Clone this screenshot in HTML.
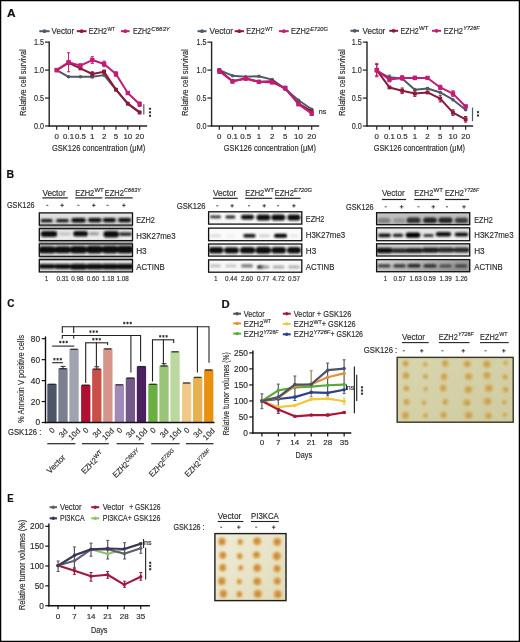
<!DOCTYPE html>
<html><head><meta charset="utf-8"><style>
html,body{margin:0;padding:0;background:#fff;}
svg{display:block;will-change:transform;}
text{font-family:"Liberation Sans", sans-serif;}
</style></head><body>
<svg width="520" height="642" viewBox="0 0 520 642">
<defs>
<filter id="bl" x="-50%" y="-100%" width="200%" height="300%"><feGaussianBlur stdDeviation="0.9"/></filter>
<filter id="tb" x="-50%" y="-50%" width="200%" height="200%"><feGaussianBlur stdDeviation="0.9"/></filter>
</defs>
<rect x="0" y="0" width="520" height="642" fill="#fff"/>
<text x="7.00" y="16.80" font-size="11.2" text-anchor="start" fill="#111" stroke="#111" stroke-width="0.2" font-weight="bold" textLength="8.60" lengthAdjust="spacingAndGlyphs">A</text>
<line x1="39.30" y1="31.20" x2="49.60" y2="31.20" stroke="#4f5a68" stroke-width="2.0"/>
<circle cx="44.45" cy="31.20" r="1.90" fill="#4f5a68"/>
<text x="51.60" y="34.30" font-size="8.6" text-anchor="start" fill="#2a2a2a" stroke="#2a2a2a" stroke-width="0.15" textLength="22.60" lengthAdjust="spacingAndGlyphs">Vector</text>
<line x1="76.80" y1="31.20" x2="86.50" y2="31.20" stroke="#8e1838" stroke-width="2.0"/>
<circle cx="81.65" cy="31.20" r="1.90" fill="#8e1838"/>
<text x="88.80" y="34.30" font-size="8.6" text-anchor="start" fill="#2a2a2a" stroke="#2a2a2a" stroke-width="0.15" textLength="18.30" lengthAdjust="spacingAndGlyphs">EZH2</text>
<text x="107.40" y="30.60" font-size="5.8" text-anchor="start" fill="#2a2a2a" stroke="#2a2a2a" stroke-width="0.15" textLength="7.50" lengthAdjust="spacingAndGlyphs">WT</text>
<line x1="120.90" y1="31.20" x2="129.60" y2="31.20" stroke="#c01c78" stroke-width="2.0"/>
<circle cx="125.25" cy="31.20" r="1.90" fill="#c01c78"/>
<text x="133.00" y="34.30" font-size="8.6" text-anchor="start" fill="#2a2a2a" stroke="#2a2a2a" stroke-width="0.15" textLength="18.00" lengthAdjust="spacingAndGlyphs">EZH2</text>
<text x="151.30" y="30.60" font-size="5.8" text-anchor="start" fill="#2a2a2a" stroke="#2a2a2a" stroke-width="0.15" textLength="18.50" lengthAdjust="spacingAndGlyphs" style="font-style:italic">C663Y</text>
<line x1="49.20" y1="41.60" x2="49.20" y2="126.60" stroke="#222" stroke-width="1.4"/>
<line x1="48.50" y1="126.00" x2="147.15" y2="126.00" stroke="#222" stroke-width="1.4"/>
<line x1="45.00" y1="42.15" x2="49.20" y2="42.15" stroke="#222" stroke-width="1.2"/>
<text x="44.00" y="45.10" font-size="8.3" text-anchor="end" fill="#2a2a2a" stroke="#2a2a2a" stroke-width="0.15" textLength="10.00" lengthAdjust="spacingAndGlyphs">1.5</text>
<line x1="45.00" y1="70.10" x2="49.20" y2="70.10" stroke="#222" stroke-width="1.2"/>
<text x="44.00" y="73.05" font-size="8.3" text-anchor="end" fill="#2a2a2a" stroke="#2a2a2a" stroke-width="0.15" textLength="10.00" lengthAdjust="spacingAndGlyphs">1.0</text>
<line x1="45.00" y1="98.05" x2="49.20" y2="98.05" stroke="#222" stroke-width="1.2"/>
<text x="44.00" y="101.00" font-size="8.3" text-anchor="end" fill="#2a2a2a" stroke="#2a2a2a" stroke-width="0.15" textLength="10.00" lengthAdjust="spacingAndGlyphs">0.5</text>
<line x1="45.00" y1="126.00" x2="49.20" y2="126.00" stroke="#222" stroke-width="1.2"/>
<text x="44.00" y="128.95" font-size="8.3" text-anchor="end" fill="#2a2a2a" stroke="#2a2a2a" stroke-width="0.15" textLength="10.00" lengthAdjust="spacingAndGlyphs">0.0</text>
<line x1="56.70" y1="126.00" x2="56.70" y2="129.80" stroke="#222" stroke-width="1.2"/>
<text x="56.70" y="138.90" font-size="7.9" text-anchor="middle" fill="#2a2a2a" stroke="#2a2a2a" stroke-width="0.15">0</text>
<line x1="68.55" y1="126.00" x2="68.55" y2="129.80" stroke="#222" stroke-width="1.2"/>
<text x="68.55" y="138.90" font-size="7.9" text-anchor="middle" fill="#2a2a2a" stroke="#2a2a2a" stroke-width="0.15">0.1</text>
<line x1="80.40" y1="126.00" x2="80.40" y2="129.80" stroke="#222" stroke-width="1.2"/>
<text x="80.40" y="138.90" font-size="7.9" text-anchor="middle" fill="#2a2a2a" stroke="#2a2a2a" stroke-width="0.15">0.5</text>
<line x1="92.25" y1="126.00" x2="92.25" y2="129.80" stroke="#222" stroke-width="1.2"/>
<text x="92.25" y="138.90" font-size="7.9" text-anchor="middle" fill="#2a2a2a" stroke="#2a2a2a" stroke-width="0.15">1</text>
<line x1="104.10" y1="126.00" x2="104.10" y2="129.80" stroke="#222" stroke-width="1.2"/>
<text x="104.10" y="138.90" font-size="7.9" text-anchor="middle" fill="#2a2a2a" stroke="#2a2a2a" stroke-width="0.15">2</text>
<line x1="115.95" y1="126.00" x2="115.95" y2="129.80" stroke="#222" stroke-width="1.2"/>
<text x="115.95" y="138.90" font-size="7.9" text-anchor="middle" fill="#2a2a2a" stroke="#2a2a2a" stroke-width="0.15">5</text>
<line x1="127.80" y1="126.00" x2="127.80" y2="129.80" stroke="#222" stroke-width="1.2"/>
<text x="127.80" y="138.90" font-size="7.9" text-anchor="middle" fill="#2a2a2a" stroke="#2a2a2a" stroke-width="0.15">10</text>
<line x1="139.65" y1="126.00" x2="139.65" y2="129.80" stroke="#222" stroke-width="1.2"/>
<text x="139.65" y="138.90" font-size="7.9" text-anchor="middle" fill="#2a2a2a" stroke="#2a2a2a" stroke-width="0.15">20</text>
<text x="51.90" y="151.40" font-size="8.6" text-anchor="start" fill="#2a2a2a" stroke="#2a2a2a" stroke-width="0.15" textLength="93.50" lengthAdjust="spacingAndGlyphs">GSK126 concentration (μM)</text>
<text x="26.30" y="82.60" font-size="8.4" text-anchor="middle" fill="#2a2a2a" stroke="#2a2a2a" stroke-width="0.15" textLength="66.40" lengthAdjust="spacingAndGlyphs" transform="rotate(-90 26.30 82.60)">Relative cell survival</text>
<line x1="92.25" y1="75.69" x2="92.25" y2="77.93" stroke="#4f5a68" stroke-width="1.0"/>
<line x1="90.65" y1="75.69" x2="93.85" y2="75.69" stroke="#4f5a68" stroke-width="1.0"/>
<line x1="90.65" y1="77.93" x2="93.85" y2="77.93" stroke="#4f5a68" stroke-width="1.0"/>
<polyline points="56.70,70.10 68.55,76.81 80.40,76.81 92.25,76.81 104.10,75.13 115.95,89.66 127.80,103.64 139.65,112.03" fill="none" stroke="#4f5a68" stroke-width="2.0" stroke-linejoin="round"/>
<circle cx="56.70" cy="70.10" r="1.80" fill="#4f5a68"/>
<circle cx="68.55" cy="76.81" r="1.80" fill="#4f5a68"/>
<circle cx="80.40" cy="76.81" r="1.80" fill="#4f5a68"/>
<circle cx="92.25" cy="76.81" r="1.80" fill="#4f5a68"/>
<circle cx="104.10" cy="75.13" r="1.80" fill="#4f5a68"/>
<circle cx="115.95" cy="89.66" r="1.80" fill="#4f5a68"/>
<circle cx="127.80" cy="103.64" r="1.80" fill="#4f5a68"/>
<circle cx="139.65" cy="112.03" r="1.80" fill="#4f5a68"/>
<line x1="92.25" y1="71.78" x2="92.25" y2="76.25" stroke="#8e1838" stroke-width="1.0"/>
<line x1="90.65" y1="71.78" x2="93.85" y2="71.78" stroke="#8e1838" stroke-width="1.0"/>
<line x1="90.65" y1="76.25" x2="93.85" y2="76.25" stroke="#8e1838" stroke-width="1.0"/>
<line x1="104.10" y1="70.10" x2="104.10" y2="73.45" stroke="#8e1838" stroke-width="1.0"/>
<line x1="102.50" y1="70.10" x2="105.70" y2="70.10" stroke="#8e1838" stroke-width="1.0"/>
<line x1="102.50" y1="73.45" x2="105.70" y2="73.45" stroke="#8e1838" stroke-width="1.0"/>
<polyline points="56.70,70.10 68.55,62.83 80.40,68.42 92.25,74.01 104.10,71.78 115.95,89.66 127.80,103.64 139.65,112.58" fill="none" stroke="#8e1838" stroke-width="2.0" stroke-linejoin="round"/>
<rect x="54.80" y="68.20" width="3.80" height="3.80" fill="#8e1838" stroke="none" stroke-width="1"/>
<rect x="66.65" y="60.93" width="3.80" height="3.80" fill="#8e1838" stroke="none" stroke-width="1"/>
<rect x="78.50" y="66.52" width="3.80" height="3.80" fill="#8e1838" stroke="none" stroke-width="1"/>
<rect x="90.35" y="72.11" width="3.80" height="3.80" fill="#8e1838" stroke="none" stroke-width="1"/>
<rect x="102.20" y="69.88" width="3.80" height="3.80" fill="#8e1838" stroke="none" stroke-width="1"/>
<rect x="114.05" y="87.76" width="3.80" height="3.80" fill="#8e1838" stroke="none" stroke-width="1"/>
<rect x="125.90" y="101.74" width="3.80" height="3.80" fill="#8e1838" stroke="none" stroke-width="1"/>
<rect x="137.75" y="110.68" width="3.80" height="3.80" fill="#8e1838" stroke="none" stroke-width="1"/>
<line x1="56.70" y1="68.42" x2="56.70" y2="71.78" stroke="#c01c78" stroke-width="1.0"/>
<line x1="55.10" y1="68.42" x2="58.30" y2="68.42" stroke="#c01c78" stroke-width="1.0"/>
<line x1="55.10" y1="71.78" x2="58.30" y2="71.78" stroke="#c01c78" stroke-width="1.0"/>
<line x1="68.55" y1="52.77" x2="68.55" y2="71.78" stroke="#c01c78" stroke-width="1.0"/>
<line x1="66.95" y1="52.77" x2="70.15" y2="52.77" stroke="#c01c78" stroke-width="1.0"/>
<line x1="66.95" y1="71.78" x2="70.15" y2="71.78" stroke="#c01c78" stroke-width="1.0"/>
<line x1="80.40" y1="63.95" x2="80.40" y2="67.31" stroke="#c01c78" stroke-width="1.0"/>
<line x1="78.80" y1="63.95" x2="82.00" y2="63.95" stroke="#c01c78" stroke-width="1.0"/>
<line x1="78.80" y1="67.31" x2="82.00" y2="67.31" stroke="#c01c78" stroke-width="1.0"/>
<line x1="92.25" y1="56.68" x2="92.25" y2="63.39" stroke="#c01c78" stroke-width="1.0"/>
<line x1="90.65" y1="56.68" x2="93.85" y2="56.68" stroke="#c01c78" stroke-width="1.0"/>
<line x1="90.65" y1="63.39" x2="93.85" y2="63.39" stroke="#c01c78" stroke-width="1.0"/>
<line x1="104.10" y1="61.16" x2="104.10" y2="66.75" stroke="#c01c78" stroke-width="1.0"/>
<line x1="102.50" y1="61.16" x2="105.70" y2="61.16" stroke="#c01c78" stroke-width="1.0"/>
<line x1="102.50" y1="66.75" x2="105.70" y2="66.75" stroke="#c01c78" stroke-width="1.0"/>
<line x1="115.95" y1="71.78" x2="115.95" y2="76.25" stroke="#c01c78" stroke-width="1.0"/>
<line x1="114.35" y1="71.78" x2="117.55" y2="71.78" stroke="#c01c78" stroke-width="1.0"/>
<line x1="114.35" y1="76.25" x2="117.55" y2="76.25" stroke="#c01c78" stroke-width="1.0"/>
<line x1="139.65" y1="101.96" x2="139.65" y2="106.44" stroke="#c01c78" stroke-width="1.0"/>
<line x1="138.05" y1="101.96" x2="141.25" y2="101.96" stroke="#c01c78" stroke-width="1.0"/>
<line x1="138.05" y1="106.44" x2="141.25" y2="106.44" stroke="#c01c78" stroke-width="1.0"/>
<polyline points="56.70,70.10 68.55,62.27 80.40,65.63 92.25,60.04 104.10,63.95 115.95,74.01 127.80,93.02 139.65,104.20" fill="none" stroke="#c01c78" stroke-width="2.0" stroke-linejoin="round"/>
<rect x="54.50" y="67.90" width="4.40" height="4.40" fill="#c01c78" stroke="none" stroke-width="1"/>
<rect x="66.35" y="60.07" width="4.40" height="4.40" fill="#c01c78" stroke="none" stroke-width="1"/>
<rect x="78.20" y="63.43" width="4.40" height="4.40" fill="#c01c78" stroke="none" stroke-width="1"/>
<rect x="90.05" y="57.84" width="4.40" height="4.40" fill="#c01c78" stroke="none" stroke-width="1"/>
<rect x="101.90" y="61.75" width="4.40" height="4.40" fill="#c01c78" stroke="none" stroke-width="1"/>
<rect x="113.75" y="71.81" width="4.40" height="4.40" fill="#c01c78" stroke="none" stroke-width="1"/>
<rect x="125.60" y="90.82" width="4.40" height="4.40" fill="#c01c78" stroke="none" stroke-width="1"/>
<rect x="137.45" y="102.00" width="4.40" height="4.40" fill="#c01c78" stroke="none" stroke-width="1"/>
<line x1="143.80" y1="104.20" x2="143.80" y2="114.60" stroke="#4f5a68" stroke-width="1.2"/>
<path d="M150.00,107.55L150.00,110.05M151.08,108.17L148.92,109.42M151.08,109.42L148.92,108.17" stroke="#222" stroke-width="0.85" fill="none"/>
<path d="M150.00,111.05L150.00,113.55M151.08,111.67L148.92,112.92M151.08,112.92L148.92,111.67" stroke="#222" stroke-width="0.85" fill="none"/>
<path d="M150.00,114.55L150.00,117.05M151.08,115.17L148.92,116.42M151.08,116.42L148.92,115.17" stroke="#222" stroke-width="0.85" fill="none"/>
<line x1="197.50" y1="31.20" x2="206.50" y2="31.20" stroke="#4f5a68" stroke-width="2.0"/>
<circle cx="202.00" cy="31.20" r="1.90" fill="#4f5a68"/>
<text x="209.60" y="34.30" font-size="8.6" text-anchor="start" fill="#2a2a2a" stroke="#2a2a2a" stroke-width="0.15" textLength="23.40" lengthAdjust="spacingAndGlyphs">Vector</text>
<line x1="234.70" y1="31.20" x2="244.00" y2="31.20" stroke="#8e1838" stroke-width="2.0"/>
<circle cx="239.35" cy="31.20" r="1.90" fill="#8e1838"/>
<text x="246.30" y="34.30" font-size="8.6" text-anchor="start" fill="#2a2a2a" stroke="#2a2a2a" stroke-width="0.15" textLength="18.60" lengthAdjust="spacingAndGlyphs">EZH2</text>
<text x="265.20" y="30.60" font-size="5.8" text-anchor="start" fill="#2a2a2a" stroke="#2a2a2a" stroke-width="0.15" textLength="7.70" lengthAdjust="spacingAndGlyphs">WT</text>
<line x1="279.00" y1="31.20" x2="288.70" y2="31.20" stroke="#c01c78" stroke-width="2.0"/>
<circle cx="283.85" cy="31.20" r="1.90" fill="#c01c78"/>
<text x="291.00" y="34.30" font-size="8.6" text-anchor="start" fill="#2a2a2a" stroke="#2a2a2a" stroke-width="0.15" textLength="19.00" lengthAdjust="spacingAndGlyphs">EZH2</text>
<text x="310.30" y="30.60" font-size="5.8" text-anchor="start" fill="#2a2a2a" stroke="#2a2a2a" stroke-width="0.15" textLength="17.50" lengthAdjust="spacingAndGlyphs" style="font-style:italic">E720G</text>
<line x1="211.60" y1="41.60" x2="211.60" y2="126.60" stroke="#222" stroke-width="1.4"/>
<line x1="210.90" y1="126.00" x2="319.20" y2="126.00" stroke="#222" stroke-width="1.4"/>
<line x1="207.40" y1="42.15" x2="211.60" y2="42.15" stroke="#222" stroke-width="1.2"/>
<text x="206.40" y="45.10" font-size="8.3" text-anchor="end" fill="#2a2a2a" stroke="#2a2a2a" stroke-width="0.15" textLength="10.00" lengthAdjust="spacingAndGlyphs">1.5</text>
<line x1="207.40" y1="70.10" x2="211.60" y2="70.10" stroke="#222" stroke-width="1.2"/>
<text x="206.40" y="73.05" font-size="8.3" text-anchor="end" fill="#2a2a2a" stroke="#2a2a2a" stroke-width="0.15" textLength="10.00" lengthAdjust="spacingAndGlyphs">1.0</text>
<line x1="207.40" y1="98.05" x2="211.60" y2="98.05" stroke="#222" stroke-width="1.2"/>
<text x="206.40" y="101.00" font-size="8.3" text-anchor="end" fill="#2a2a2a" stroke="#2a2a2a" stroke-width="0.15" textLength="10.00" lengthAdjust="spacingAndGlyphs">0.5</text>
<line x1="207.40" y1="126.00" x2="211.60" y2="126.00" stroke="#222" stroke-width="1.2"/>
<text x="206.40" y="128.95" font-size="8.3" text-anchor="end" fill="#2a2a2a" stroke="#2a2a2a" stroke-width="0.15" textLength="10.00" lengthAdjust="spacingAndGlyphs">0.0</text>
<line x1="219.30" y1="126.00" x2="219.30" y2="129.80" stroke="#222" stroke-width="1.2"/>
<text x="219.30" y="138.90" font-size="7.9" text-anchor="middle" fill="#2a2a2a" stroke="#2a2a2a" stroke-width="0.15">0</text>
<line x1="232.50" y1="126.00" x2="232.50" y2="129.80" stroke="#222" stroke-width="1.2"/>
<text x="232.50" y="138.90" font-size="7.9" text-anchor="middle" fill="#2a2a2a" stroke="#2a2a2a" stroke-width="0.15">0.1</text>
<line x1="245.70" y1="126.00" x2="245.70" y2="129.80" stroke="#222" stroke-width="1.2"/>
<text x="245.70" y="138.90" font-size="7.9" text-anchor="middle" fill="#2a2a2a" stroke="#2a2a2a" stroke-width="0.15">0.5</text>
<line x1="258.90" y1="126.00" x2="258.90" y2="129.80" stroke="#222" stroke-width="1.2"/>
<text x="258.90" y="138.90" font-size="7.9" text-anchor="middle" fill="#2a2a2a" stroke="#2a2a2a" stroke-width="0.15">1</text>
<line x1="272.10" y1="126.00" x2="272.10" y2="129.80" stroke="#222" stroke-width="1.2"/>
<text x="272.10" y="138.90" font-size="7.9" text-anchor="middle" fill="#2a2a2a" stroke="#2a2a2a" stroke-width="0.15">2</text>
<line x1="285.30" y1="126.00" x2="285.30" y2="129.80" stroke="#222" stroke-width="1.2"/>
<text x="285.30" y="138.90" font-size="7.9" text-anchor="middle" fill="#2a2a2a" stroke="#2a2a2a" stroke-width="0.15">5</text>
<line x1="298.50" y1="126.00" x2="298.50" y2="129.80" stroke="#222" stroke-width="1.2"/>
<text x="298.50" y="138.90" font-size="7.9" text-anchor="middle" fill="#2a2a2a" stroke="#2a2a2a" stroke-width="0.15">10</text>
<line x1="311.70" y1="126.00" x2="311.70" y2="129.80" stroke="#222" stroke-width="1.2"/>
<text x="311.70" y="138.90" font-size="7.9" text-anchor="middle" fill="#2a2a2a" stroke="#2a2a2a" stroke-width="0.15">20</text>
<text x="223.75" y="151.40" font-size="8.6" text-anchor="start" fill="#2a2a2a" stroke="#2a2a2a" stroke-width="0.15" textLength="92.25" lengthAdjust="spacingAndGlyphs">GSK126 concentration (μM)</text>
<text x="187.60" y="82.60" font-size="8.4" text-anchor="middle" fill="#2a2a2a" stroke="#2a2a2a" stroke-width="0.15" textLength="66.40" lengthAdjust="spacingAndGlyphs" transform="rotate(-90 187.60 82.60)">Relative cell survival</text>
<polyline points="219.30,70.10 232.50,75.69 245.70,76.81 258.90,76.25 272.10,79.60 285.30,89.11 298.50,100.29 311.70,109.23" fill="none" stroke="#4f5a68" stroke-width="2.0" stroke-linejoin="round"/>
<circle cx="219.30" cy="70.10" r="1.80" fill="#4f5a68"/>
<circle cx="232.50" cy="75.69" r="1.80" fill="#4f5a68"/>
<circle cx="245.70" cy="76.81" r="1.80" fill="#4f5a68"/>
<circle cx="258.90" cy="76.25" r="1.80" fill="#4f5a68"/>
<circle cx="272.10" cy="79.60" r="1.80" fill="#4f5a68"/>
<circle cx="285.30" cy="89.11" r="1.80" fill="#4f5a68"/>
<circle cx="298.50" cy="100.29" r="1.80" fill="#4f5a68"/>
<circle cx="311.70" cy="109.23" r="1.80" fill="#4f5a68"/>
<polyline points="219.30,70.10 232.50,81.28 245.70,78.48 258.90,81.84 272.10,81.28 285.30,88.55 298.50,103.64 311.70,111.47" fill="none" stroke="#8e1838" stroke-width="2.0" stroke-linejoin="round"/>
<rect x="217.40" y="68.20" width="3.80" height="3.80" fill="#8e1838" stroke="none" stroke-width="1"/>
<rect x="230.60" y="79.38" width="3.80" height="3.80" fill="#8e1838" stroke="none" stroke-width="1"/>
<rect x="243.80" y="76.58" width="3.80" height="3.80" fill="#8e1838" stroke="none" stroke-width="1"/>
<rect x="257.00" y="79.94" width="3.80" height="3.80" fill="#8e1838" stroke="none" stroke-width="1"/>
<rect x="270.20" y="79.38" width="3.80" height="3.80" fill="#8e1838" stroke="none" stroke-width="1"/>
<rect x="283.40" y="86.65" width="3.80" height="3.80" fill="#8e1838" stroke="none" stroke-width="1"/>
<rect x="296.60" y="101.74" width="3.80" height="3.80" fill="#8e1838" stroke="none" stroke-width="1"/>
<rect x="309.80" y="109.57" width="3.80" height="3.80" fill="#8e1838" stroke="none" stroke-width="1"/>
<line x1="219.30" y1="68.98" x2="219.30" y2="73.45" stroke="#c01c78" stroke-width="1.0"/>
<line x1="217.70" y1="68.98" x2="220.90" y2="68.98" stroke="#c01c78" stroke-width="1.0"/>
<line x1="217.70" y1="73.45" x2="220.90" y2="73.45" stroke="#c01c78" stroke-width="1.0"/>
<line x1="232.50" y1="79.60" x2="232.50" y2="82.96" stroke="#c01c78" stroke-width="1.0"/>
<line x1="230.90" y1="79.60" x2="234.10" y2="79.60" stroke="#c01c78" stroke-width="1.0"/>
<line x1="230.90" y1="82.96" x2="234.10" y2="82.96" stroke="#c01c78" stroke-width="1.0"/>
<line x1="245.70" y1="76.81" x2="245.70" y2="80.16" stroke="#c01c78" stroke-width="1.0"/>
<line x1="244.10" y1="76.81" x2="247.30" y2="76.81" stroke="#c01c78" stroke-width="1.0"/>
<line x1="244.10" y1="80.16" x2="247.30" y2="80.16" stroke="#c01c78" stroke-width="1.0"/>
<line x1="258.90" y1="80.72" x2="258.90" y2="82.96" stroke="#c01c78" stroke-width="1.0"/>
<line x1="257.30" y1="80.72" x2="260.50" y2="80.72" stroke="#c01c78" stroke-width="1.0"/>
<line x1="257.30" y1="82.96" x2="260.50" y2="82.96" stroke="#c01c78" stroke-width="1.0"/>
<line x1="272.10" y1="81.28" x2="272.10" y2="83.52" stroke="#c01c78" stroke-width="1.0"/>
<line x1="270.50" y1="81.28" x2="273.70" y2="81.28" stroke="#c01c78" stroke-width="1.0"/>
<line x1="270.50" y1="83.52" x2="273.70" y2="83.52" stroke="#c01c78" stroke-width="1.0"/>
<line x1="285.30" y1="86.31" x2="285.30" y2="89.66" stroke="#c01c78" stroke-width="1.0"/>
<line x1="283.70" y1="86.31" x2="286.90" y2="86.31" stroke="#c01c78" stroke-width="1.0"/>
<line x1="283.70" y1="89.66" x2="286.90" y2="89.66" stroke="#c01c78" stroke-width="1.0"/>
<line x1="298.50" y1="103.08" x2="298.50" y2="105.32" stroke="#c01c78" stroke-width="1.0"/>
<line x1="296.90" y1="103.08" x2="300.10" y2="103.08" stroke="#c01c78" stroke-width="1.0"/>
<line x1="296.90" y1="105.32" x2="300.10" y2="105.32" stroke="#c01c78" stroke-width="1.0"/>
<line x1="311.70" y1="112.03" x2="311.70" y2="115.38" stroke="#c01c78" stroke-width="1.0"/>
<line x1="310.10" y1="112.03" x2="313.30" y2="112.03" stroke="#c01c78" stroke-width="1.0"/>
<line x1="310.10" y1="115.38" x2="313.30" y2="115.38" stroke="#c01c78" stroke-width="1.0"/>
<polyline points="219.30,71.22 232.50,81.28 245.70,78.48 258.90,81.84 272.10,82.40 285.30,87.99 298.50,104.20 311.70,113.70" fill="none" stroke="#c01c78" stroke-width="2.0" stroke-linejoin="round"/>
<rect x="217.10" y="69.02" width="4.40" height="4.40" fill="#c01c78" stroke="none" stroke-width="1"/>
<rect x="230.30" y="79.08" width="4.40" height="4.40" fill="#c01c78" stroke="none" stroke-width="1"/>
<rect x="243.50" y="76.28" width="4.40" height="4.40" fill="#c01c78" stroke="none" stroke-width="1"/>
<rect x="256.70" y="79.64" width="4.40" height="4.40" fill="#c01c78" stroke="none" stroke-width="1"/>
<rect x="269.90" y="80.20" width="4.40" height="4.40" fill="#c01c78" stroke="none" stroke-width="1"/>
<rect x="283.10" y="85.79" width="4.40" height="4.40" fill="#c01c78" stroke="none" stroke-width="1"/>
<rect x="296.30" y="102.00" width="4.40" height="4.40" fill="#c01c78" stroke="none" stroke-width="1"/>
<rect x="309.50" y="111.50" width="4.40" height="4.40" fill="#c01c78" stroke="none" stroke-width="1"/>
<text x="318.80" y="114.40" font-size="7.2" text-anchor="start" fill="#2a2a2a" stroke="#2a2a2a" stroke-width="0.15">ns</text>
<line x1="350.40" y1="30.80" x2="359.00" y2="30.80" stroke="#4f5a68" stroke-width="2.0"/>
<circle cx="354.70" cy="30.80" r="1.90" fill="#4f5a68"/>
<text x="362.50" y="33.90" font-size="8.6" text-anchor="start" fill="#2a2a2a" stroke="#2a2a2a" stroke-width="0.15" textLength="22.80" lengthAdjust="spacingAndGlyphs">Vector</text>
<line x1="389.30" y1="30.80" x2="398.00" y2="30.80" stroke="#8e1838" stroke-width="2.0"/>
<circle cx="393.65" cy="30.80" r="1.90" fill="#8e1838"/>
<text x="400.60" y="33.90" font-size="8.6" text-anchor="start" fill="#2a2a2a" stroke="#2a2a2a" stroke-width="0.15" textLength="18.20" lengthAdjust="spacingAndGlyphs">EZH2</text>
<text x="419.10" y="30.20" font-size="5.8" text-anchor="start" fill="#2a2a2a" stroke="#2a2a2a" stroke-width="0.15" textLength="9.50" lengthAdjust="spacingAndGlyphs">WT</text>
<line x1="432.00" y1="30.80" x2="441.00" y2="30.80" stroke="#c01c78" stroke-width="2.0"/>
<circle cx="436.50" cy="30.80" r="1.90" fill="#c01c78"/>
<text x="443.80" y="33.90" font-size="8.6" text-anchor="start" fill="#2a2a2a" stroke="#2a2a2a" stroke-width="0.15" textLength="19.20" lengthAdjust="spacingAndGlyphs">EZH2</text>
<text x="463.30" y="30.20" font-size="5.8" text-anchor="start" fill="#2a2a2a" stroke="#2a2a2a" stroke-width="0.15" textLength="16.40" lengthAdjust="spacingAndGlyphs" style="font-style:italic">Y726F</text>
<line x1="367.00" y1="41.60" x2="367.00" y2="126.60" stroke="#222" stroke-width="1.4"/>
<line x1="366.30" y1="126.00" x2="473.15" y2="126.00" stroke="#222" stroke-width="1.4"/>
<line x1="362.80" y1="42.15" x2="367.00" y2="42.15" stroke="#222" stroke-width="1.2"/>
<text x="361.80" y="45.10" font-size="8.3" text-anchor="end" fill="#2a2a2a" stroke="#2a2a2a" stroke-width="0.15" textLength="10.00" lengthAdjust="spacingAndGlyphs">1.5</text>
<line x1="362.80" y1="70.10" x2="367.00" y2="70.10" stroke="#222" stroke-width="1.2"/>
<text x="361.80" y="73.05" font-size="8.3" text-anchor="end" fill="#2a2a2a" stroke="#2a2a2a" stroke-width="0.15" textLength="10.00" lengthAdjust="spacingAndGlyphs">1.0</text>
<line x1="362.80" y1="98.05" x2="367.00" y2="98.05" stroke="#222" stroke-width="1.2"/>
<text x="361.80" y="101.00" font-size="8.3" text-anchor="end" fill="#2a2a2a" stroke="#2a2a2a" stroke-width="0.15" textLength="10.00" lengthAdjust="spacingAndGlyphs">0.5</text>
<line x1="362.80" y1="126.00" x2="367.00" y2="126.00" stroke="#222" stroke-width="1.2"/>
<text x="361.80" y="128.95" font-size="8.3" text-anchor="end" fill="#2a2a2a" stroke="#2a2a2a" stroke-width="0.15" textLength="10.00" lengthAdjust="spacingAndGlyphs">0.0</text>
<line x1="376.75" y1="126.00" x2="376.75" y2="129.80" stroke="#222" stroke-width="1.2"/>
<text x="376.75" y="138.90" font-size="7.9" text-anchor="middle" fill="#2a2a2a" stroke="#2a2a2a" stroke-width="0.15">0</text>
<line x1="389.45" y1="126.00" x2="389.45" y2="129.80" stroke="#222" stroke-width="1.2"/>
<text x="389.45" y="138.90" font-size="7.9" text-anchor="middle" fill="#2a2a2a" stroke="#2a2a2a" stroke-width="0.15">0.1</text>
<line x1="402.15" y1="126.00" x2="402.15" y2="129.80" stroke="#222" stroke-width="1.2"/>
<text x="402.15" y="138.90" font-size="7.9" text-anchor="middle" fill="#2a2a2a" stroke="#2a2a2a" stroke-width="0.15">0.5</text>
<line x1="414.85" y1="126.00" x2="414.85" y2="129.80" stroke="#222" stroke-width="1.2"/>
<text x="414.85" y="138.90" font-size="7.9" text-anchor="middle" fill="#2a2a2a" stroke="#2a2a2a" stroke-width="0.15">1</text>
<line x1="427.55" y1="126.00" x2="427.55" y2="129.80" stroke="#222" stroke-width="1.2"/>
<text x="427.55" y="138.90" font-size="7.9" text-anchor="middle" fill="#2a2a2a" stroke="#2a2a2a" stroke-width="0.15">2</text>
<line x1="440.25" y1="126.00" x2="440.25" y2="129.80" stroke="#222" stroke-width="1.2"/>
<text x="440.25" y="138.90" font-size="7.9" text-anchor="middle" fill="#2a2a2a" stroke="#2a2a2a" stroke-width="0.15">5</text>
<line x1="452.95" y1="126.00" x2="452.95" y2="129.80" stroke="#222" stroke-width="1.2"/>
<text x="452.95" y="138.90" font-size="7.9" text-anchor="middle" fill="#2a2a2a" stroke="#2a2a2a" stroke-width="0.15">10</text>
<line x1="465.65" y1="126.00" x2="465.65" y2="129.80" stroke="#222" stroke-width="1.2"/>
<text x="465.65" y="138.90" font-size="7.9" text-anchor="middle" fill="#2a2a2a" stroke="#2a2a2a" stroke-width="0.15">20</text>
<text x="373.75" y="151.40" font-size="8.6" text-anchor="start" fill="#2a2a2a" stroke="#2a2a2a" stroke-width="0.15" textLength="91.25" lengthAdjust="spacingAndGlyphs">GSK126 concentration (μM)</text>
<text x="344.80" y="82.60" font-size="8.4" text-anchor="middle" fill="#2a2a2a" stroke="#2a2a2a" stroke-width="0.15" textLength="66.40" lengthAdjust="spacingAndGlyphs" transform="rotate(-90 344.80 82.60)">Relative cell survival</text>
<line x1="389.45" y1="75.13" x2="389.45" y2="79.60" stroke="#4f5a68" stroke-width="1.0"/>
<line x1="387.85" y1="75.13" x2="391.05" y2="75.13" stroke="#4f5a68" stroke-width="1.0"/>
<line x1="387.85" y1="79.60" x2="391.05" y2="79.60" stroke="#4f5a68" stroke-width="1.0"/>
<line x1="427.55" y1="87.43" x2="427.55" y2="89.66" stroke="#4f5a68" stroke-width="1.0"/>
<line x1="425.95" y1="87.43" x2="429.15" y2="87.43" stroke="#4f5a68" stroke-width="1.0"/>
<line x1="425.95" y1="89.66" x2="429.15" y2="89.66" stroke="#4f5a68" stroke-width="1.0"/>
<polyline points="376.75,71.22 389.45,77.37 402.15,78.48 414.85,89.66 427.55,88.55 440.25,92.46 452.95,99.73 465.65,109.79" fill="none" stroke="#4f5a68" stroke-width="2.0" stroke-linejoin="round"/>
<circle cx="376.75" cy="71.22" r="1.80" fill="#4f5a68"/>
<circle cx="389.45" cy="77.37" r="1.80" fill="#4f5a68"/>
<circle cx="402.15" cy="78.48" r="1.80" fill="#4f5a68"/>
<circle cx="414.85" cy="89.66" r="1.80" fill="#4f5a68"/>
<circle cx="427.55" cy="88.55" r="1.80" fill="#4f5a68"/>
<circle cx="440.25" cy="92.46" r="1.80" fill="#4f5a68"/>
<circle cx="452.95" cy="99.73" r="1.80" fill="#4f5a68"/>
<circle cx="465.65" cy="109.79" r="1.80" fill="#4f5a68"/>
<line x1="376.75" y1="64.51" x2="376.75" y2="75.69" stroke="#8e1838" stroke-width="1.0"/>
<line x1="375.15" y1="64.51" x2="378.35" y2="64.51" stroke="#8e1838" stroke-width="1.0"/>
<line x1="375.15" y1="75.69" x2="378.35" y2="75.69" stroke="#8e1838" stroke-width="1.0"/>
<line x1="402.15" y1="87.99" x2="402.15" y2="93.58" stroke="#8e1838" stroke-width="1.0"/>
<line x1="400.55" y1="87.99" x2="403.75" y2="87.99" stroke="#8e1838" stroke-width="1.0"/>
<line x1="400.55" y1="93.58" x2="403.75" y2="93.58" stroke="#8e1838" stroke-width="1.0"/>
<line x1="414.85" y1="90.78" x2="414.85" y2="96.37" stroke="#8e1838" stroke-width="1.0"/>
<line x1="413.25" y1="90.78" x2="416.45" y2="90.78" stroke="#8e1838" stroke-width="1.0"/>
<line x1="413.25" y1="96.37" x2="416.45" y2="96.37" stroke="#8e1838" stroke-width="1.0"/>
<line x1="440.25" y1="95.25" x2="440.25" y2="101.96" stroke="#8e1838" stroke-width="1.0"/>
<line x1="438.65" y1="95.25" x2="441.85" y2="95.25" stroke="#8e1838" stroke-width="1.0"/>
<line x1="438.65" y1="101.96" x2="441.85" y2="101.96" stroke="#8e1838" stroke-width="1.0"/>
<line x1="452.95" y1="109.79" x2="452.95" y2="115.38" stroke="#8e1838" stroke-width="1.0"/>
<line x1="451.35" y1="109.79" x2="454.55" y2="109.79" stroke="#8e1838" stroke-width="1.0"/>
<line x1="451.35" y1="115.38" x2="454.55" y2="115.38" stroke="#8e1838" stroke-width="1.0"/>
<line x1="465.65" y1="116.50" x2="465.65" y2="122.09" stroke="#8e1838" stroke-width="1.0"/>
<line x1="464.05" y1="116.50" x2="467.25" y2="116.50" stroke="#8e1838" stroke-width="1.0"/>
<line x1="464.05" y1="122.09" x2="467.25" y2="122.09" stroke="#8e1838" stroke-width="1.0"/>
<polyline points="376.75,70.10 389.45,87.43 402.15,90.78 414.85,93.58 427.55,92.46 440.25,98.61 452.95,112.58 465.65,119.29" fill="none" stroke="#8e1838" stroke-width="2.0" stroke-linejoin="round"/>
<rect x="374.85" y="68.20" width="3.80" height="3.80" fill="#8e1838" stroke="none" stroke-width="1"/>
<rect x="387.55" y="85.53" width="3.80" height="3.80" fill="#8e1838" stroke="none" stroke-width="1"/>
<rect x="400.25" y="88.88" width="3.80" height="3.80" fill="#8e1838" stroke="none" stroke-width="1"/>
<rect x="412.95" y="91.68" width="3.80" height="3.80" fill="#8e1838" stroke="none" stroke-width="1"/>
<rect x="425.65" y="90.56" width="3.80" height="3.80" fill="#8e1838" stroke="none" stroke-width="1"/>
<rect x="438.35" y="96.71" width="3.80" height="3.80" fill="#8e1838" stroke="none" stroke-width="1"/>
<rect x="451.05" y="110.68" width="3.80" height="3.80" fill="#8e1838" stroke="none" stroke-width="1"/>
<rect x="463.75" y="117.39" width="3.80" height="3.80" fill="#8e1838" stroke="none" stroke-width="1"/>
<line x1="376.75" y1="63.39" x2="376.75" y2="76.81" stroke="#c01c78" stroke-width="1.0"/>
<line x1="375.15" y1="63.39" x2="378.35" y2="63.39" stroke="#c01c78" stroke-width="1.0"/>
<line x1="375.15" y1="76.81" x2="378.35" y2="76.81" stroke="#c01c78" stroke-width="1.0"/>
<line x1="389.45" y1="77.37" x2="389.45" y2="81.84" stroke="#c01c78" stroke-width="1.0"/>
<line x1="387.85" y1="77.37" x2="391.05" y2="77.37" stroke="#c01c78" stroke-width="1.0"/>
<line x1="387.85" y1="81.84" x2="391.05" y2="81.84" stroke="#c01c78" stroke-width="1.0"/>
<line x1="402.15" y1="75.69" x2="402.15" y2="80.16" stroke="#c01c78" stroke-width="1.0"/>
<line x1="400.55" y1="75.69" x2="403.75" y2="75.69" stroke="#c01c78" stroke-width="1.0"/>
<line x1="400.55" y1="80.16" x2="403.75" y2="80.16" stroke="#c01c78" stroke-width="1.0"/>
<line x1="414.85" y1="76.25" x2="414.85" y2="79.60" stroke="#c01c78" stroke-width="1.0"/>
<line x1="413.25" y1="76.25" x2="416.45" y2="76.25" stroke="#c01c78" stroke-width="1.0"/>
<line x1="413.25" y1="79.60" x2="416.45" y2="79.60" stroke="#c01c78" stroke-width="1.0"/>
<line x1="440.25" y1="85.19" x2="440.25" y2="89.67" stroke="#c01c78" stroke-width="1.0"/>
<line x1="438.65" y1="85.19" x2="441.85" y2="85.19" stroke="#c01c78" stroke-width="1.0"/>
<line x1="438.65" y1="89.67" x2="441.85" y2="89.67" stroke="#c01c78" stroke-width="1.0"/>
<line x1="452.95" y1="90.78" x2="452.95" y2="96.37" stroke="#c01c78" stroke-width="1.0"/>
<line x1="451.35" y1="90.78" x2="454.55" y2="90.78" stroke="#c01c78" stroke-width="1.0"/>
<line x1="451.35" y1="96.37" x2="454.55" y2="96.37" stroke="#c01c78" stroke-width="1.0"/>
<line x1="465.65" y1="105.32" x2="465.65" y2="107.55" stroke="#c01c78" stroke-width="1.0"/>
<line x1="464.05" y1="105.32" x2="467.25" y2="105.32" stroke="#c01c78" stroke-width="1.0"/>
<line x1="464.05" y1="107.55" x2="467.25" y2="107.55" stroke="#c01c78" stroke-width="1.0"/>
<polyline points="376.75,70.10 389.45,79.60 402.15,77.93 414.85,77.93 427.55,77.93 440.25,87.43 452.95,93.58 465.65,106.44" fill="none" stroke="#c01c78" stroke-width="2.0" stroke-linejoin="round"/>
<rect x="374.55" y="67.90" width="4.40" height="4.40" fill="#c01c78" stroke="none" stroke-width="1"/>
<rect x="387.25" y="77.40" width="4.40" height="4.40" fill="#c01c78" stroke="none" stroke-width="1"/>
<rect x="399.95" y="75.73" width="4.40" height="4.40" fill="#c01c78" stroke="none" stroke-width="1"/>
<rect x="412.65" y="75.73" width="4.40" height="4.40" fill="#c01c78" stroke="none" stroke-width="1"/>
<rect x="425.35" y="75.73" width="4.40" height="4.40" fill="#c01c78" stroke="none" stroke-width="1"/>
<rect x="438.05" y="85.23" width="4.40" height="4.40" fill="#c01c78" stroke="none" stroke-width="1"/>
<rect x="450.75" y="91.38" width="4.40" height="4.40" fill="#c01c78" stroke="none" stroke-width="1"/>
<rect x="463.45" y="104.23" width="4.40" height="4.40" fill="#c01c78" stroke="none" stroke-width="1"/>
<line x1="472.50" y1="107.50" x2="472.50" y2="121.20" stroke="#4f5a68" stroke-width="1.2"/>
<path d="M478.00,110.85L478.00,113.35M479.08,111.47L476.92,112.72M479.08,112.72L476.92,111.47" stroke="#222" stroke-width="0.85" fill="none"/>
<path d="M478.00,114.25L478.00,116.75M479.08,114.88L476.92,116.12M479.08,116.12L476.92,114.88" stroke="#222" stroke-width="0.85" fill="none"/>
<text x="6.60" y="178.00" font-size="11.2" text-anchor="start" fill="#111" stroke="#111" stroke-width="0.2" font-weight="bold" textLength="7.60" lengthAdjust="spacingAndGlyphs">B</text>
<text x="42.40" y="196.40" font-size="8.6" text-anchor="start" fill="#2a2a2a" stroke="#2a2a2a" stroke-width="0.15" textLength="23.30" lengthAdjust="spacingAndGlyphs">Vector</text>
<line x1="42.40" y1="197.90" x2="67.80" y2="197.90" stroke="#222" stroke-width="1.2"/>
<text x="75.20" y="196.40" font-size="8.6" text-anchor="start" fill="#2a2a2a" stroke="#2a2a2a" stroke-width="0.15" textLength="19.00" lengthAdjust="spacingAndGlyphs">EZH2</text>
<text x="94.40" y="192.40" font-size="6.0" text-anchor="start" fill="#2a2a2a" stroke="#2a2a2a" stroke-width="0.15" textLength="9.40" lengthAdjust="spacingAndGlyphs">WT</text>
<line x1="75.20" y1="197.90" x2="102.30" y2="197.90" stroke="#222" stroke-width="1.2"/>
<text x="104.80" y="196.40" font-size="8.6" text-anchor="start" fill="#2a2a2a" stroke="#2a2a2a" stroke-width="0.15" textLength="19.10" lengthAdjust="spacingAndGlyphs">EZH2</text>
<text x="124.10" y="192.40" font-size="6.0" text-anchor="start" fill="#2a2a2a" stroke="#2a2a2a" stroke-width="0.15" textLength="16.90" lengthAdjust="spacingAndGlyphs" style="font-style:italic">C663Y</text>
<line x1="104.80" y1="197.90" x2="132.70" y2="197.90" stroke="#222" stroke-width="1.2"/>
<text x="6.90" y="208.00" font-size="8.6" text-anchor="start" fill="#2a2a2a" stroke="#2a2a2a" stroke-width="0.15" textLength="27.70" lengthAdjust="spacingAndGlyphs">GSK126</text>
<line x1="46.30" y1="205.30" x2="48.30" y2="205.30" stroke="#333" stroke-width="0.9"/>
<line x1="60.30" y1="205.30" x2="63.90" y2="205.30" stroke="#333" stroke-width="0.9"/>
<line x1="62.10" y1="203.50" x2="62.10" y2="207.10" stroke="#333" stroke-width="0.9"/>
<line x1="77.40" y1="205.30" x2="79.40" y2="205.30" stroke="#333" stroke-width="0.9"/>
<line x1="92.00" y1="205.30" x2="95.60" y2="205.30" stroke="#333" stroke-width="0.9"/>
<line x1="93.80" y1="203.50" x2="93.80" y2="207.10" stroke="#333" stroke-width="0.9"/>
<line x1="106.60" y1="205.30" x2="108.60" y2="205.30" stroke="#333" stroke-width="0.9"/>
<line x1="122.10" y1="205.30" x2="125.70" y2="205.30" stroke="#333" stroke-width="0.9"/>
<line x1="123.90" y1="203.50" x2="123.90" y2="207.10" stroke="#333" stroke-width="0.9"/>
<rect x="38.80" y="225.30" width="94.20" height="3.20" fill="#a8a8a8" stroke="none" stroke-width="1"/>
<rect x="38.80" y="240.80" width="94.20" height="2.90" fill="#a8a8a8" stroke="none" stroke-width="1"/>
<rect x="38.80" y="256.50" width="94.20" height="3.00" fill="#a8a8a8" stroke="none" stroke-width="1"/>
<defs><linearGradient id="g38_212" x1="0" y1="0" x2="0" y2="1"><stop offset="0" stop-color="#e6e6e6"/><stop offset="1" stop-color="#cfcfcf"/></linearGradient></defs>
<rect x="38.80" y="212.40" width="94.20" height="13.20" fill="url(#g38_212)" stroke="none" stroke-width="1"/>
<defs><clipPath id="c388_2124"><rect x="38.80" y="212.40" width="94.20" height="13.20"/></clipPath></defs>
<g clip-path="url(#c388_2124)"><g filter="url(#bl)">
<rect x="40.60" y="219.10" width="12.00" height="3.20" rx="1.60" fill="#161616"/>
<rect x="56.20" y="219.10" width="12.60" height="3.20" rx="1.60" fill="#161616"/>
<rect x="71.40" y="217.90" width="14.40" height="4.60" rx="2.30" fill="#0a0a0a"/>
<rect x="88.00" y="218.00" width="13.60" height="4.20" rx="2.10" fill="#0c0c0c"/>
<rect x="102.80" y="218.00" width="13.20" height="4.20" rx="2.10" fill="#0c0c0c"/>
<rect x="118.00" y="218.00" width="13.20" height="4.20" rx="2.10" fill="#0c0c0c"/>
</g></g>
<rect x="39.30" y="212.90" width="93.20" height="12.20" fill="none" stroke="#111" stroke-width="1.3"/>
<text x="136.20" y="222.90" font-size="8.6" text-anchor="start" fill="#2a2a2a" stroke="#2a2a2a" stroke-width="0.15" textLength="18.60" lengthAdjust="spacingAndGlyphs">EZH2</text>
<defs><linearGradient id="g38_228" x1="0" y1="0" x2="0" y2="1"><stop offset="0" stop-color="#e4e4e4"/><stop offset="1" stop-color="#f2f2f2"/></linearGradient></defs>
<rect x="38.80" y="228.20" width="94.20" height="12.90" fill="url(#g38_228)" stroke="none" stroke-width="1"/>
<defs><clipPath id="c388_2282"><rect x="38.80" y="228.20" width="94.20" height="12.90"/></clipPath></defs>
<g clip-path="url(#c388_2282)"><g filter="url(#bl)">
<rect x="40.60" y="231.10" width="16.80" height="5.80" rx="2.90" fill="#0e0e0e"/>
<rect x="59.00" y="232.50" width="12.00" height="3.00" rx="1.50" fill="#c2c2c2"/>
<rect x="73.10" y="231.00" width="15.00" height="5.60" rx="2.80" fill="#0e0e0e"/>
<rect x="89.00" y="232.30" width="10.00" height="3.00" rx="1.50" fill="#9a9a9a"/>
<rect x="103.40" y="231.10" width="15.60" height="6.40" rx="3.20" fill="#0e0e0e"/>
<rect x="119.10" y="232.20" width="12.80" height="3.80" rx="1.90" fill="#333"/>
</g></g>
<rect x="39.30" y="228.70" width="93.20" height="11.90" fill="none" stroke="#111" stroke-width="1.3"/>
<text x="136.20" y="238.55" font-size="8.6" text-anchor="start" fill="#2a2a2a" stroke="#2a2a2a" stroke-width="0.15" textLength="39.40" lengthAdjust="spacingAndGlyphs">H3K27me3</text>
<defs><linearGradient id="g38_243" x1="0" y1="0" x2="0" y2="1"><stop offset="0" stop-color="#d8d8d8"/><stop offset="1" stop-color="#f2f2f2"/></linearGradient></defs>
<rect x="38.80" y="243.40" width="94.20" height="13.40" fill="url(#g38_243)" stroke="none" stroke-width="1"/>
<defs><clipPath id="c388_2434"><rect x="38.80" y="243.40" width="94.20" height="13.40"/></clipPath></defs>
<g clip-path="url(#c388_2434)"><g filter="url(#bl)">
<rect x="38.40" y="246.20" width="17.20" height="7.40" rx="3.70" fill="#0e0e0e"/>
<rect x="54.20" y="246.30" width="16.80" height="7.00" rx="3.50" fill="#0e0e0e"/>
<rect x="69.90" y="246.10" width="17.20" height="7.40" rx="3.70" fill="#0e0e0e"/>
<rect x="85.90" y="245.80" width="17.20" height="7.60" rx="3.80" fill="#0e0e0e"/>
<rect x="101.40" y="245.80" width="17.20" height="7.60" rx="3.80" fill="#0e0e0e"/>
<rect x="116.40" y="245.80" width="17.20" height="7.60" rx="3.80" fill="#0e0e0e"/>
</g></g>
<rect x="39.30" y="243.90" width="93.20" height="12.40" fill="none" stroke="#111" stroke-width="1.3"/>
<text x="136.20" y="254.00" font-size="8.6" text-anchor="start" fill="#2a2a2a" stroke="#2a2a2a" stroke-width="0.15" textLength="10.50" lengthAdjust="spacingAndGlyphs">H3</text>
<defs><linearGradient id="g38_259" x1="0" y1="0" x2="0" y2="1"><stop offset="0" stop-color="#e8e8e8"/><stop offset="1" stop-color="#e0e0e0"/></linearGradient></defs>
<rect x="38.80" y="259.20" width="94.20" height="13.20" fill="url(#g38_259)" stroke="none" stroke-width="1"/>
<defs><clipPath id="c388_2592"><rect x="38.80" y="259.20" width="94.20" height="13.20"/></clipPath></defs>
<g clip-path="url(#c388_2592)"><g filter="url(#bl)">
<rect x="38.40" y="263.90" width="17.20" height="4.80" rx="2.40" fill="#0e0e0e"/>
<rect x="54.20" y="264.10" width="16.80" height="4.80" rx="2.40" fill="#0e0e0e"/>
<rect x="69.90" y="263.80" width="17.20" height="6.00" rx="3.00" fill="#0e0e0e"/>
<rect x="85.90" y="263.80" width="17.20" height="5.60" rx="2.80" fill="#0e0e0e"/>
<rect x="101.40" y="263.80" width="17.20" height="5.60" rx="2.80" fill="#0e0e0e"/>
<rect x="116.40" y="263.80" width="17.20" height="5.60" rx="2.80" fill="#0e0e0e"/>
</g></g>
<rect x="39.30" y="259.70" width="93.20" height="12.20" fill="none" stroke="#111" stroke-width="1.3"/>
<text x="136.20" y="269.70" font-size="8.6" text-anchor="start" fill="#2a2a2a" stroke="#2a2a2a" stroke-width="0.15" textLength="28.60" lengthAdjust="spacingAndGlyphs">ACTINB</text>
<text x="46.70" y="280.70" font-size="7.0" text-anchor="middle" fill="#2a2a2a" stroke="#2a2a2a" stroke-width="0.15" textLength="3.20" lengthAdjust="spacingAndGlyphs">1</text>
<text x="62.60" y="280.70" font-size="7.0" text-anchor="middle" fill="#2a2a2a" stroke="#2a2a2a" stroke-width="0.15" textLength="12.20" lengthAdjust="spacingAndGlyphs">0.31</text>
<text x="77.40" y="280.70" font-size="7.0" text-anchor="middle" fill="#2a2a2a" stroke="#2a2a2a" stroke-width="0.15" textLength="12.20" lengthAdjust="spacingAndGlyphs">0.98</text>
<text x="92.80" y="280.70" font-size="7.0" text-anchor="middle" fill="#2a2a2a" stroke="#2a2a2a" stroke-width="0.15" textLength="12.20" lengthAdjust="spacingAndGlyphs">0.60</text>
<text x="108.20" y="280.70" font-size="7.0" text-anchor="middle" fill="#2a2a2a" stroke="#2a2a2a" stroke-width="0.15" textLength="12.20" lengthAdjust="spacingAndGlyphs">1.18</text>
<text x="122.60" y="280.70" font-size="7.0" text-anchor="middle" fill="#2a2a2a" stroke="#2a2a2a" stroke-width="0.15" textLength="12.20" lengthAdjust="spacingAndGlyphs">1.08</text>
<text x="213.00" y="196.40" font-size="8.6" text-anchor="start" fill="#2a2a2a" stroke="#2a2a2a" stroke-width="0.15" textLength="23.30" lengthAdjust="spacingAndGlyphs">Vector</text>
<line x1="213.00" y1="198.30" x2="237.80" y2="198.30" stroke="#222" stroke-width="1.2"/>
<text x="245.20" y="196.40" font-size="8.6" text-anchor="start" fill="#2a2a2a" stroke="#2a2a2a" stroke-width="0.15" textLength="19.00" lengthAdjust="spacingAndGlyphs">EZH2</text>
<text x="264.40" y="192.40" font-size="6.0" text-anchor="start" fill="#2a2a2a" stroke="#2a2a2a" stroke-width="0.15" textLength="9.60" lengthAdjust="spacingAndGlyphs">WT</text>
<line x1="245.20" y1="198.30" x2="272.30" y2="198.30" stroke="#222" stroke-width="1.2"/>
<text x="274.80" y="196.40" font-size="8.6" text-anchor="start" fill="#2a2a2a" stroke="#2a2a2a" stroke-width="0.15" textLength="19.10" lengthAdjust="spacingAndGlyphs">EZH2</text>
<text x="294.10" y="192.40" font-size="6.0" text-anchor="start" fill="#2a2a2a" stroke="#2a2a2a" stroke-width="0.15" textLength="17.90" lengthAdjust="spacingAndGlyphs" style="font-style:italic">E720G</text>
<line x1="274.80" y1="198.30" x2="300.60" y2="198.30" stroke="#222" stroke-width="1.2"/>
<text x="176.70" y="208.50" font-size="8.6" text-anchor="start" fill="#2a2a2a" stroke="#2a2a2a" stroke-width="0.15" textLength="28.90" lengthAdjust="spacingAndGlyphs">GSK126</text>
<line x1="216.30" y1="205.80" x2="218.30" y2="205.80" stroke="#333" stroke-width="0.9"/>
<line x1="230.30" y1="205.80" x2="233.90" y2="205.80" stroke="#333" stroke-width="0.9"/>
<line x1="232.10" y1="204.00" x2="232.10" y2="207.60" stroke="#333" stroke-width="0.9"/>
<line x1="248.00" y1="205.80" x2="250.00" y2="205.80" stroke="#333" stroke-width="0.9"/>
<line x1="262.40" y1="205.80" x2="266.00" y2="205.80" stroke="#333" stroke-width="0.9"/>
<line x1="264.20" y1="204.00" x2="264.20" y2="207.60" stroke="#333" stroke-width="0.9"/>
<line x1="277.00" y1="205.80" x2="279.00" y2="205.80" stroke="#333" stroke-width="0.9"/>
<line x1="292.10" y1="205.80" x2="295.70" y2="205.80" stroke="#333" stroke-width="0.9"/>
<line x1="293.90" y1="204.00" x2="293.90" y2="207.60" stroke="#333" stroke-width="0.9"/>
<rect x="208.10" y="211.30" width="94.20" height="13.30" fill="#f8f8f8" stroke="none" stroke-width="1"/>
<defs><clipPath id="c2081_2113"><rect x="208.10" y="211.30" width="94.20" height="13.30"/></clipPath></defs>
<g clip-path="url(#c2081_2113)"><g filter="url(#bl)">
<rect x="210.00" y="215.50" width="11.00" height="2.80" rx="1.40" fill="#333"/>
<rect x="225.40" y="215.40" width="10.00" height="3.00" rx="1.50" fill="#222"/>
<rect x="240.90" y="214.80" width="13.20" height="4.60" rx="2.30" fill="#0a0a0a"/>
<rect x="256.40" y="214.50" width="14.00" height="6.00" rx="3.00" fill="#0e0e0e"/>
<rect x="271.30" y="214.50" width="14.00" height="6.00" rx="3.00" fill="#0e0e0e"/>
<rect x="287.30" y="214.50" width="13.20" height="6.00" rx="3.00" fill="#0e0e0e"/>
</g></g>
<rect x="208.60" y="211.80" width="93.20" height="12.30" fill="none" stroke="#111" stroke-width="1.3"/>
<text x="305.80" y="221.85" font-size="8.6" text-anchor="start" fill="#2a2a2a" stroke="#2a2a2a" stroke-width="0.15" textLength="18.60" lengthAdjust="spacingAndGlyphs">EZH2</text>
<rect x="208.10" y="227.60" width="94.20" height="13.60" fill="#fafafa" stroke="none" stroke-width="1"/>
<defs><clipPath id="c2081_2276"><rect x="208.10" y="227.60" width="94.20" height="13.60"/></clipPath></defs>
<g clip-path="url(#c2081_2276)"><g filter="url(#bl)">
<rect x="210.00" y="234.50" width="11.00" height="2.40" rx="1.20" fill="#d8d8d8"/>
<rect x="226.50" y="234.70" width="9.00" height="2.00" rx="1.00" fill="#ececec"/>
<rect x="243.30" y="233.90" width="12.40" height="3.60" rx="1.80" fill="#0c0c0c"/>
<rect x="259.00" y="234.40" width="11.00" height="2.60" rx="1.30" fill="#cccccc"/>
<rect x="274.00" y="233.70" width="13.20" height="4.00" rx="2.00" fill="#050505"/>
<rect x="289.50" y="234.70" width="9.00" height="2.00" rx="1.00" fill="#e4e4e4"/>
</g></g>
<rect x="208.60" y="228.10" width="93.20" height="12.60" fill="none" stroke="#111" stroke-width="1.3"/>
<text x="305.80" y="238.30" font-size="8.6" text-anchor="start" fill="#2a2a2a" stroke="#2a2a2a" stroke-width="0.15" textLength="39.40" lengthAdjust="spacingAndGlyphs">H3K27me3</text>
<rect x="208.10" y="243.50" width="94.20" height="13.10" fill="#f4f4f4" stroke="none" stroke-width="1"/>
<defs><clipPath id="c2081_2435"><rect x="208.10" y="243.50" width="94.20" height="13.10"/></clipPath></defs>
<g clip-path="url(#c2081_2435)"><g filter="url(#bl)">
<rect x="208.60" y="247.00" width="14.80" height="6.60" rx="3.30" fill="#0e0e0e"/>
<rect x="224.10" y="247.20" width="14.80" height="6.20" rx="3.10" fill="#0e0e0e"/>
<rect x="239.90" y="247.00" width="15.20" height="6.60" rx="3.30" fill="#0e0e0e"/>
<rect x="255.40" y="246.80" width="15.60" height="7.00" rx="3.50" fill="#0e0e0e"/>
<rect x="271.30" y="247.00" width="14.80" height="6.60" rx="3.30" fill="#0e0e0e"/>
<rect x="287.00" y="247.00" width="14.00" height="6.60" rx="3.30" fill="#0e0e0e"/>
</g></g>
<rect x="208.60" y="244.00" width="93.20" height="12.10" fill="none" stroke="#111" stroke-width="1.3"/>
<text x="305.80" y="253.95" font-size="8.6" text-anchor="start" fill="#2a2a2a" stroke="#2a2a2a" stroke-width="0.15" textLength="10.50" lengthAdjust="spacingAndGlyphs">H3</text>
<rect x="208.10" y="259.40" width="94.20" height="13.30" fill="#f8f8f8" stroke="none" stroke-width="1"/>
<defs><clipPath id="c2081_2594"><rect x="208.10" y="259.40" width="94.20" height="13.30"/></clipPath></defs>
<g clip-path="url(#c2081_2594)"><g filter="url(#bl)">
<rect x="210.00" y="264.50" width="11.00" height="2.80" rx="1.40" fill="#bdbdbd"/>
<rect x="225.50" y="264.50" width="11.00" height="2.80" rx="1.40" fill="#c6c6c6"/>
<rect x="241.00" y="264.30" width="12.00" height="3.20" rx="1.60" fill="#7a7a7a"/>
<rect x="257.00" y="265.30" width="8.00" height="3.40" rx="1.70" fill="#222"/>
<rect x="261.50" y="265.50" width="8.00" height="3.00" rx="1.50" fill="#999"/>
<rect x="272.50" y="265.50" width="12.00" height="3.00" rx="1.50" fill="#aaaaaa"/>
<rect x="288.00" y="265.50" width="12.00" height="3.00" rx="1.50" fill="#b0b0b0"/>
</g></g>
<rect x="208.60" y="259.90" width="93.20" height="12.30" fill="none" stroke="#111" stroke-width="1.3"/>
<text x="305.80" y="269.95" font-size="8.6" text-anchor="start" fill="#2a2a2a" stroke="#2a2a2a" stroke-width="0.15" textLength="28.60" lengthAdjust="spacingAndGlyphs">ACTINB</text>
<text x="215.90" y="280.70" font-size="7.0" text-anchor="middle" fill="#2a2a2a" stroke="#2a2a2a" stroke-width="0.15" textLength="3.20" lengthAdjust="spacingAndGlyphs">1</text>
<text x="231.10" y="280.70" font-size="7.0" text-anchor="middle" fill="#2a2a2a" stroke="#2a2a2a" stroke-width="0.15" textLength="12.20" lengthAdjust="spacingAndGlyphs">0.44</text>
<text x="247.00" y="280.70" font-size="7.0" text-anchor="middle" fill="#2a2a2a" stroke="#2a2a2a" stroke-width="0.15" textLength="12.20" lengthAdjust="spacingAndGlyphs">2.60</text>
<text x="263.10" y="280.70" font-size="7.0" text-anchor="middle" fill="#2a2a2a" stroke="#2a2a2a" stroke-width="0.15" textLength="12.20" lengthAdjust="spacingAndGlyphs">0.77</text>
<text x="278.70" y="280.70" font-size="7.0" text-anchor="middle" fill="#2a2a2a" stroke="#2a2a2a" stroke-width="0.15" textLength="12.20" lengthAdjust="spacingAndGlyphs">4.72</text>
<text x="294.00" y="280.70" font-size="7.0" text-anchor="middle" fill="#2a2a2a" stroke="#2a2a2a" stroke-width="0.15" textLength="12.20" lengthAdjust="spacingAndGlyphs">0.57</text>
<text x="381.90" y="196.40" font-size="8.6" text-anchor="start" fill="#2a2a2a" stroke="#2a2a2a" stroke-width="0.15" textLength="22.80" lengthAdjust="spacingAndGlyphs">Vector</text>
<line x1="381.90" y1="199.50" x2="406.20" y2="199.50" stroke="#222" stroke-width="1.2"/>
<text x="414.30" y="196.40" font-size="8.6" text-anchor="start" fill="#2a2a2a" stroke="#2a2a2a" stroke-width="0.15" textLength="19.00" lengthAdjust="spacingAndGlyphs">EZH2</text>
<text x="433.50" y="192.40" font-size="6.0" text-anchor="start" fill="#2a2a2a" stroke="#2a2a2a" stroke-width="0.15" textLength="9.50" lengthAdjust="spacingAndGlyphs">WT</text>
<line x1="414.30" y1="199.50" x2="439.20" y2="199.50" stroke="#222" stroke-width="1.2"/>
<text x="444.90" y="196.40" font-size="8.6" text-anchor="start" fill="#2a2a2a" stroke="#2a2a2a" stroke-width="0.15" textLength="19.00" lengthAdjust="spacingAndGlyphs">EZH2</text>
<text x="464.10" y="192.40" font-size="6.0" text-anchor="start" fill="#2a2a2a" stroke="#2a2a2a" stroke-width="0.15" textLength="14.90" lengthAdjust="spacingAndGlyphs" style="font-style:italic">Y726F</text>
<line x1="444.90" y1="199.50" x2="469.20" y2="199.50" stroke="#222" stroke-width="1.2"/>
<text x="346.00" y="209.50" font-size="8.6" text-anchor="start" fill="#2a2a2a" stroke="#2a2a2a" stroke-width="0.15" textLength="27.70" lengthAdjust="spacingAndGlyphs">GSK126</text>
<line x1="384.70" y1="206.80" x2="386.70" y2="206.80" stroke="#333" stroke-width="0.9"/>
<line x1="399.80" y1="206.80" x2="403.40" y2="206.80" stroke="#333" stroke-width="0.9"/>
<line x1="401.60" y1="205.00" x2="401.60" y2="208.60" stroke="#333" stroke-width="0.9"/>
<line x1="417.50" y1="206.80" x2="419.50" y2="206.80" stroke="#333" stroke-width="0.9"/>
<line x1="431.50" y1="206.80" x2="435.10" y2="206.80" stroke="#333" stroke-width="0.9"/>
<line x1="433.30" y1="205.00" x2="433.30" y2="208.60" stroke="#333" stroke-width="0.9"/>
<line x1="446.00" y1="206.80" x2="448.00" y2="206.80" stroke="#333" stroke-width="0.9"/>
<line x1="462.20" y1="206.80" x2="465.80" y2="206.80" stroke="#333" stroke-width="0.9"/>
<line x1="464.00" y1="205.00" x2="464.00" y2="208.60" stroke="#333" stroke-width="0.9"/>
<defs><linearGradient id="g376_212" x1="0" y1="0" x2="0" y2="1"><stop offset="0" stop-color="#c6c6c6"/><stop offset="1" stop-color="#b2b2b2"/></linearGradient></defs>
<rect x="376.10" y="212.20" width="94.10" height="13.00" fill="url(#g376_212)" stroke="none" stroke-width="1"/>
<defs><clipPath id="c3761_2122"><rect x="376.10" y="212.20" width="94.10" height="13.00"/></clipPath></defs>
<g clip-path="url(#c3761_2122)"><g filter="url(#bl)">
<rect x="377.80" y="218.00" width="12.40" height="5.00" rx="2.50" fill="#808080"/>
<rect x="393.70" y="218.00" width="11.60" height="5.00" rx="2.50" fill="#999"/>
<rect x="406.50" y="217.50" width="14.00" height="5.60" rx="2.80" fill="#2e2e2e"/>
<rect x="423.20" y="217.60" width="13.60" height="5.40" rx="2.70" fill="#222"/>
<rect x="438.50" y="217.60" width="14.00" height="5.40" rx="2.70" fill="#222"/>
<rect x="454.90" y="217.70" width="13.20" height="5.20" rx="2.60" fill="#3a3a3a"/>
</g></g>
<rect x="376.60" y="212.70" width="93.10" height="12.00" fill="none" stroke="#111" stroke-width="1.3"/>
<text x="474.20" y="222.60" font-size="8.6" text-anchor="start" fill="#2a2a2a" stroke="#2a2a2a" stroke-width="0.15" textLength="18.60" lengthAdjust="spacingAndGlyphs">EZH2</text>
<defs><linearGradient id="g376_227" x1="0" y1="0" x2="0" y2="1"><stop offset="0" stop-color="#e0e0e0"/><stop offset="1" stop-color="#f4f4f4"/></linearGradient></defs>
<rect x="376.10" y="227.30" width="94.10" height="13.90" fill="url(#g376_227)" stroke="none" stroke-width="1"/>
<defs><clipPath id="c3761_2273"><rect x="376.10" y="227.30" width="94.10" height="13.90"/></clipPath></defs>
<g clip-path="url(#c3761_2273)"><g filter="url(#bl)">
<rect x="378.10" y="233.40" width="12.80" height="3.80" rx="1.90" fill="#0e0e0e"/>
<rect x="392.80" y="233.70" width="10.40" height="3.20" rx="1.60" fill="#1a1a1a"/>
<rect x="405.60" y="232.50" width="14.80" height="5.20" rx="2.60" fill="#050505"/>
<rect x="423.30" y="234.00" width="10.40" height="3.00" rx="1.50" fill="#333"/>
<rect x="435.90" y="232.10" width="15.20" height="4.40" rx="2.20" fill="#080808"/>
<rect x="454.70" y="232.60" width="13.60" height="3.80" rx="1.90" fill="#111"/>
</g></g>
<rect x="376.60" y="227.80" width="93.10" height="12.90" fill="none" stroke="#111" stroke-width="1.3"/>
<text x="474.20" y="238.15" font-size="8.6" text-anchor="start" fill="#2a2a2a" stroke="#2a2a2a" stroke-width="0.15" textLength="39.40" lengthAdjust="spacingAndGlyphs">H3K27me3</text>
<defs><linearGradient id="g376_243" x1="0" y1="0" x2="0" y2="1"><stop offset="0" stop-color="#cccccc"/><stop offset="1" stop-color="#e4e4e4"/></linearGradient></defs>
<rect x="376.10" y="243.30" width="94.10" height="13.20" fill="url(#g376_243)" stroke="none" stroke-width="1"/>
<defs><clipPath id="c3761_2433"><rect x="376.10" y="243.30" width="94.10" height="13.20"/></clipPath></defs>
<g clip-path="url(#c3761_2433)"><g filter="url(#bl)">
<rect x="376.10" y="247.70" width="16.80" height="5.60" rx="2.80" fill="#111"/>
<rect x="391.30" y="248.30" width="16.40" height="4.80" rx="2.40" fill="#2a2a2a"/>
<rect x="406.10" y="247.90" width="16.80" height="5.20" rx="2.60" fill="#1e1e1e"/>
<rect x="422.10" y="247.50" width="16.80" height="5.20" rx="2.60" fill="#1e1e1e"/>
<rect x="437.60" y="247.60" width="16.80" height="5.00" rx="2.50" fill="#262626"/>
<rect x="453.50" y="247.60" width="16.00" height="5.00" rx="2.50" fill="#262626"/>
</g></g>
<rect x="376.60" y="243.80" width="93.10" height="12.20" fill="none" stroke="#111" stroke-width="1.3"/>
<text x="474.20" y="253.80" font-size="8.6" text-anchor="start" fill="#2a2a2a" stroke="#2a2a2a" stroke-width="0.15" textLength="10.50" lengthAdjust="spacingAndGlyphs">H3</text>
<defs><linearGradient id="g376_259" x1="0" y1="0" x2="1" y2="0.3"><stop offset="0" stop-color="#d6d6d6"/><stop offset="1" stop-color="#959595"/></linearGradient></defs>
<rect x="376.10" y="259.10" width="94.10" height="13.10" fill="url(#g376_259)" stroke="none" stroke-width="1"/>
<defs><clipPath id="c3761_2591"><rect x="376.10" y="259.10" width="94.10" height="13.10"/></clipPath></defs>
<g clip-path="url(#c3761_2591)"><g filter="url(#bl)">
<rect x="377.50" y="264.30" width="13.00" height="3.20" rx="1.60" fill="#3a3a3a"/>
<rect x="393.30" y="264.30" width="12.40" height="3.20" rx="1.60" fill="#333"/>
<rect x="407.40" y="264.00" width="13.20" height="3.40" rx="1.70" fill="#222"/>
<rect x="423.40" y="264.20" width="13.20" height="3.40" rx="1.70" fill="#262626"/>
<rect x="439.30" y="264.40" width="12.40" height="3.00" rx="1.50" fill="#444"/>
<rect x="454.80" y="264.40" width="12.40" height="3.00" rx="1.50" fill="#3a3a3a"/>
</g></g>
<rect x="376.60" y="259.60" width="93.10" height="12.10" fill="none" stroke="#111" stroke-width="1.3"/>
<text x="474.20" y="269.55" font-size="8.6" text-anchor="start" fill="#2a2a2a" stroke="#2a2a2a" stroke-width="0.15" textLength="28.60" lengthAdjust="spacingAndGlyphs">ACTINB</text>
<text x="385.30" y="280.70" font-size="7.0" text-anchor="middle" fill="#2a2a2a" stroke="#2a2a2a" stroke-width="0.15" textLength="3.20" lengthAdjust="spacingAndGlyphs">1</text>
<text x="399.70" y="280.70" font-size="7.0" text-anchor="middle" fill="#2a2a2a" stroke="#2a2a2a" stroke-width="0.15" textLength="12.20" lengthAdjust="spacingAndGlyphs">0.57</text>
<text x="415.60" y="280.70" font-size="7.0" text-anchor="middle" fill="#2a2a2a" stroke="#2a2a2a" stroke-width="0.15" textLength="12.20" lengthAdjust="spacingAndGlyphs">1.63</text>
<text x="429.60" y="280.70" font-size="7.0" text-anchor="middle" fill="#2a2a2a" stroke="#2a2a2a" stroke-width="0.15" textLength="12.20" lengthAdjust="spacingAndGlyphs">0.59</text>
<text x="445.60" y="280.70" font-size="7.0" text-anchor="middle" fill="#2a2a2a" stroke="#2a2a2a" stroke-width="0.15" textLength="12.20" lengthAdjust="spacingAndGlyphs">1.39</text>
<text x="461.30" y="280.70" font-size="7.0" text-anchor="middle" fill="#2a2a2a" stroke="#2a2a2a" stroke-width="0.15" textLength="12.20" lengthAdjust="spacingAndGlyphs">1.26</text>
<text x="7.30" y="307.10" font-size="11.2" text-anchor="start" fill="#111" stroke="#111" stroke-width="0.2" font-weight="bold" textLength="7.20" lengthAdjust="spacingAndGlyphs">C</text>
<rect x="47.30" y="384.00" width="9.30" height="38.50" fill="#4d5568" stroke="none" stroke-width="1"/>
<rect x="48.30" y="383.60" width="7.30" height="1.40" fill="#222" stroke="none" stroke-width="1" opacity="0.85"/>
<rect x="58.35" y="368.40" width="9.30" height="54.10" fill="#7a8090" stroke="none" stroke-width="1"/>
<line x1="63.00" y1="366.40" x2="63.00" y2="368.90" stroke="#222" stroke-width="1.0"/>
<line x1="60.60" y1="366.40" x2="65.40" y2="366.40" stroke="#222" stroke-width="1.0"/>
<rect x="59.35" y="368.00" width="7.30" height="1.40" fill="#222" stroke="none" stroke-width="1" opacity="0.85"/>
<rect x="69.40" y="349.00" width="9.30" height="73.50" fill="#a0a4b0" stroke="none" stroke-width="1"/>
<rect x="70.40" y="348.60" width="7.30" height="1.40" fill="#222" stroke="none" stroke-width="1" opacity="0.85"/>
<rect x="81.10" y="384.90" width="9.30" height="37.60" fill="#b01030" stroke="none" stroke-width="1"/>
<rect x="82.10" y="384.50" width="7.30" height="1.40" fill="#222" stroke="none" stroke-width="1" opacity="0.85"/>
<rect x="92.15" y="368.80" width="9.30" height="53.70" fill="#c9504a" stroke="none" stroke-width="1"/>
<line x1="96.80" y1="366.80" x2="96.80" y2="369.30" stroke="#222" stroke-width="1.0"/>
<line x1="94.40" y1="366.80" x2="99.20" y2="366.80" stroke="#222" stroke-width="1.0"/>
<rect x="93.15" y="368.40" width="7.30" height="1.40" fill="#222" stroke="none" stroke-width="1" opacity="0.85"/>
<rect x="103.20" y="348.60" width="9.30" height="73.90" fill="#d79488" stroke="none" stroke-width="1"/>
<rect x="104.20" y="348.20" width="7.30" height="1.40" fill="#222" stroke="none" stroke-width="1" opacity="0.85"/>
<rect x="114.70" y="384.50" width="9.30" height="38.00" fill="#a08ab8" stroke="none" stroke-width="1"/>
<rect x="115.70" y="384.10" width="7.30" height="1.40" fill="#222" stroke="none" stroke-width="1" opacity="0.85"/>
<rect x="125.75" y="377.80" width="9.30" height="44.70" fill="#745888" stroke="none" stroke-width="1"/>
<rect x="126.75" y="377.40" width="7.30" height="1.40" fill="#222" stroke="none" stroke-width="1" opacity="0.85"/>
<rect x="136.80" y="366.30" width="9.30" height="56.20" fill="#4a2060" stroke="none" stroke-width="1"/>
<rect x="137.80" y="365.90" width="7.30" height="1.40" fill="#222" stroke="none" stroke-width="1" opacity="0.85"/>
<rect x="148.30" y="384.00" width="9.30" height="38.50" fill="#6ab040" stroke="none" stroke-width="1"/>
<rect x="149.30" y="383.60" width="7.30" height="1.40" fill="#222" stroke="none" stroke-width="1" opacity="0.85"/>
<rect x="159.35" y="365.70" width="9.30" height="56.80" fill="#9cc478" stroke="none" stroke-width="1"/>
<line x1="164.00" y1="363.70" x2="164.00" y2="366.20" stroke="#222" stroke-width="1.0"/>
<line x1="161.60" y1="363.70" x2="166.40" y2="363.70" stroke="#222" stroke-width="1.0"/>
<rect x="160.35" y="365.30" width="7.30" height="1.40" fill="#222" stroke="none" stroke-width="1" opacity="0.85"/>
<rect x="170.40" y="351.50" width="9.30" height="71.00" fill="#bcd8a0" stroke="none" stroke-width="1"/>
<rect x="171.40" y="351.10" width="7.30" height="1.40" fill="#222" stroke="none" stroke-width="1" opacity="0.85"/>
<rect x="182.00" y="382.70" width="9.30" height="39.80" fill="#f0c888" stroke="none" stroke-width="1"/>
<rect x="183.00" y="382.30" width="7.30" height="1.40" fill="#222" stroke="none" stroke-width="1" opacity="0.85"/>
<rect x="193.05" y="377.10" width="9.30" height="45.40" fill="#e8b050" stroke="none" stroke-width="1"/>
<rect x="194.05" y="376.70" width="7.30" height="1.40" fill="#222" stroke="none" stroke-width="1" opacity="0.85"/>
<rect x="204.10" y="369.70" width="9.30" height="52.80" fill="#e89010" stroke="none" stroke-width="1"/>
<rect x="205.10" y="369.30" width="7.30" height="1.40" fill="#222" stroke="none" stroke-width="1" opacity="0.85"/>
<line x1="45.50" y1="336.40" x2="45.50" y2="423.20" stroke="#111" stroke-width="1.4"/>
<line x1="44.80" y1="422.50" x2="214.50" y2="422.50" stroke="#111" stroke-width="1.5"/>
<line x1="41.70" y1="422.50" x2="45.50" y2="422.50" stroke="#111" stroke-width="1.2"/>
<text x="40.10" y="425.45" font-size="8.3" text-anchor="end" fill="#2a2a2a" stroke="#2a2a2a" stroke-width="0.15">0</text>
<line x1="41.70" y1="401.55" x2="45.50" y2="401.55" stroke="#111" stroke-width="1.2"/>
<text x="40.10" y="404.50" font-size="8.3" text-anchor="end" fill="#2a2a2a" stroke="#2a2a2a" stroke-width="0.15">20</text>
<line x1="41.70" y1="380.60" x2="45.50" y2="380.60" stroke="#111" stroke-width="1.2"/>
<text x="40.10" y="383.55" font-size="8.3" text-anchor="end" fill="#2a2a2a" stroke="#2a2a2a" stroke-width="0.15">40</text>
<line x1="41.70" y1="359.65" x2="45.50" y2="359.65" stroke="#111" stroke-width="1.2"/>
<text x="40.10" y="362.60" font-size="8.3" text-anchor="end" fill="#2a2a2a" stroke="#2a2a2a" stroke-width="0.15">60</text>
<line x1="41.70" y1="338.70" x2="45.50" y2="338.70" stroke="#111" stroke-width="1.2"/>
<text x="40.10" y="341.65" font-size="8.3" text-anchor="end" fill="#2a2a2a" stroke="#2a2a2a" stroke-width="0.15">80</text>
<text x="24.30" y="379.00" font-size="8.4" text-anchor="middle" fill="#2a2a2a" stroke="#2a2a2a" stroke-width="0.15" textLength="88.00" lengthAdjust="spacingAndGlyphs" transform="rotate(-90 24.30 379.00)">% Annexin V positive cells</text>
<line x1="62.30" y1="326.70" x2="209.00" y2="326.70" stroke="#222" stroke-width="1.1"/>
<line x1="62.30" y1="326.20" x2="62.30" y2="333.00" stroke="#222" stroke-width="1.1"/>
<line x1="73.70" y1="326.20" x2="73.70" y2="333.00" stroke="#222" stroke-width="1.1"/>
<line x1="197.40" y1="326.20" x2="197.40" y2="372.60" stroke="#222" stroke-width="1.1"/>
<line x1="209.00" y1="326.20" x2="209.00" y2="362.80" stroke="#222" stroke-width="1.1"/>
<path d="M124.30,321.75L124.30,324.25M125.38,322.38L123.22,323.62M125.38,323.62L123.22,322.38" stroke="#222" stroke-width="0.85" fill="none"/>
<path d="M127.50,321.75L127.50,324.25M128.58,322.38L126.42,323.62M128.58,323.62L126.42,322.38" stroke="#222" stroke-width="0.85" fill="none"/>
<path d="M130.70,321.75L130.70,324.25M131.78,322.38L129.62,323.62M131.78,323.62L129.62,322.38" stroke="#222" stroke-width="0.85" fill="none"/>
<line x1="62.30" y1="335.50" x2="140.60" y2="335.50" stroke="#222" stroke-width="1.1"/>
<line x1="62.30" y1="335.00" x2="62.30" y2="338.80" stroke="#222" stroke-width="1.1"/>
<line x1="73.70" y1="335.00" x2="73.70" y2="338.80" stroke="#222" stroke-width="1.1"/>
<line x1="130.90" y1="335.00" x2="130.90" y2="372.40" stroke="#222" stroke-width="1.1"/>
<line x1="140.60" y1="335.00" x2="140.60" y2="361.60" stroke="#222" stroke-width="1.1"/>
<path d="M90.40,330.35L90.40,332.85M91.48,330.98L89.32,332.23M91.48,332.23L89.32,330.98" stroke="#222" stroke-width="0.85" fill="none"/>
<path d="M93.60,330.35L93.60,332.85M94.68,330.98L92.52,332.23M94.68,332.23L92.52,330.98" stroke="#222" stroke-width="0.85" fill="none"/>
<path d="M96.80,330.35L96.80,332.85M97.88,330.98L95.72,332.23M97.88,332.23L95.72,330.98" stroke="#222" stroke-width="0.85" fill="none"/>
<path d="M60.30,340.75L60.30,343.25M61.38,341.38L59.22,342.62M61.38,342.62L59.22,341.38" stroke="#222" stroke-width="0.85" fill="none"/>
<path d="M63.50,340.75L63.50,343.25M64.58,341.38L62.42,342.62M64.58,342.62L62.42,341.38" stroke="#222" stroke-width="0.85" fill="none"/>
<path d="M66.70,340.75L66.70,343.25M67.78,341.38L65.62,342.62M67.78,342.62L65.62,341.38" stroke="#222" stroke-width="0.85" fill="none"/>
<line x1="52.20" y1="346.10" x2="74.30" y2="346.10" stroke="#222" stroke-width="1.1"/>
<path d="M54.40,357.95L54.40,360.45M55.48,358.57L53.32,359.82M55.48,359.82L53.32,358.57" stroke="#222" stroke-width="0.85" fill="none"/>
<path d="M57.60,357.95L57.60,360.45M58.68,358.57L56.52,359.82M58.68,359.82L56.52,358.57" stroke="#222" stroke-width="0.85" fill="none"/>
<path d="M60.80,357.95L60.80,360.45M61.88,358.57L59.72,359.82M61.88,359.82L59.72,358.57" stroke="#222" stroke-width="0.85" fill="none"/>
<line x1="52.20" y1="362.70" x2="63.10" y2="362.70" stroke="#222" stroke-width="1.1"/>
<line x1="85.70" y1="342.80" x2="107.60" y2="342.80" stroke="#222" stroke-width="1.1"/>
<line x1="85.70" y1="342.30" x2="85.70" y2="383.00" stroke="#222" stroke-width="1.1"/>
<line x1="96.40" y1="342.30" x2="96.40" y2="366.50" stroke="#222" stroke-width="1.1"/>
<line x1="107.60" y1="342.30" x2="107.60" y2="345.00" stroke="#222" stroke-width="1.1"/>
<path d="M93.40,337.95L93.40,340.45M94.48,338.57L92.32,339.82M94.48,339.82L92.32,338.57" stroke="#222" stroke-width="0.85" fill="none"/>
<path d="M96.60,337.95L96.60,340.45M97.68,338.57L95.52,339.82M97.68,339.82L95.52,338.57" stroke="#222" stroke-width="0.85" fill="none"/>
<path d="M99.80,337.95L99.80,340.45M100.88,338.57L98.72,339.82M100.88,339.82L98.72,338.57" stroke="#222" stroke-width="0.85" fill="none"/>
<line x1="152.50" y1="339.80" x2="173.70" y2="339.80" stroke="#222" stroke-width="1.1"/>
<line x1="152.50" y1="339.30" x2="152.50" y2="381.50" stroke="#222" stroke-width="1.1"/>
<line x1="163.40" y1="339.30" x2="163.40" y2="363.50" stroke="#222" stroke-width="1.1"/>
<line x1="173.70" y1="339.30" x2="173.70" y2="342.90" stroke="#222" stroke-width="1.1"/>
<path d="M160.20,335.05L160.20,337.55M161.28,335.68L159.12,336.93M161.28,336.93L159.12,335.68" stroke="#222" stroke-width="0.85" fill="none"/>
<path d="M163.40,335.05L163.40,337.55M164.48,335.68L162.32,336.93M164.48,336.93L162.32,335.68" stroke="#222" stroke-width="0.85" fill="none"/>
<path d="M166.60,335.05L166.60,337.55M167.68,335.68L165.52,336.93M167.68,336.93L165.52,335.68" stroke="#222" stroke-width="0.85" fill="none"/>
<text x="8.00" y="434.80" font-size="8.6" text-anchor="start" fill="#2a2a2a" stroke="#2a2a2a" stroke-width="0.15" textLength="33.30" lengthAdjust="spacingAndGlyphs">GSK126 :</text>
<text x="55.35" y="430.60" font-size="7.9" text-anchor="end" fill="#2a2a2a" stroke="#2a2a2a" stroke-width="0.15" transform="rotate(-45 55.35 430.60)">0</text>
<text x="68.10" y="432.00" font-size="7.9" text-anchor="end" fill="#2a2a2a" stroke="#2a2a2a" stroke-width="0.15" transform="rotate(-45 68.10 432.00)">3d</text>
<text x="80.75" y="431.40" font-size="7.9" text-anchor="end" fill="#2a2a2a" stroke="#2a2a2a" stroke-width="0.15" transform="rotate(-45 80.75 431.40)">10d</text>
<text x="89.15" y="430.60" font-size="7.9" text-anchor="end" fill="#2a2a2a" stroke="#2a2a2a" stroke-width="0.15" transform="rotate(-45 89.15 430.60)">0</text>
<text x="101.90" y="432.00" font-size="7.9" text-anchor="end" fill="#2a2a2a" stroke="#2a2a2a" stroke-width="0.15" transform="rotate(-45 101.90 432.00)">3d</text>
<text x="114.55" y="431.40" font-size="7.9" text-anchor="end" fill="#2a2a2a" stroke="#2a2a2a" stroke-width="0.15" transform="rotate(-45 114.55 431.40)">10d</text>
<text x="122.75" y="430.60" font-size="7.9" text-anchor="end" fill="#2a2a2a" stroke="#2a2a2a" stroke-width="0.15" transform="rotate(-45 122.75 430.60)">0</text>
<text x="135.50" y="432.00" font-size="7.9" text-anchor="end" fill="#2a2a2a" stroke="#2a2a2a" stroke-width="0.15" transform="rotate(-45 135.50 432.00)">3d</text>
<text x="148.15" y="431.40" font-size="7.9" text-anchor="end" fill="#2a2a2a" stroke="#2a2a2a" stroke-width="0.15" transform="rotate(-45 148.15 431.40)">10d</text>
<text x="156.35" y="430.60" font-size="7.9" text-anchor="end" fill="#2a2a2a" stroke="#2a2a2a" stroke-width="0.15" transform="rotate(-45 156.35 430.60)">0</text>
<text x="169.10" y="432.00" font-size="7.9" text-anchor="end" fill="#2a2a2a" stroke="#2a2a2a" stroke-width="0.15" transform="rotate(-45 169.10 432.00)">3d</text>
<text x="181.75" y="431.40" font-size="7.9" text-anchor="end" fill="#2a2a2a" stroke="#2a2a2a" stroke-width="0.15" transform="rotate(-45 181.75 431.40)">10d</text>
<text x="190.05" y="430.60" font-size="7.9" text-anchor="end" fill="#2a2a2a" stroke="#2a2a2a" stroke-width="0.15" transform="rotate(-45 190.05 430.60)">0</text>
<text x="202.80" y="432.00" font-size="7.9" text-anchor="end" fill="#2a2a2a" stroke="#2a2a2a" stroke-width="0.15" transform="rotate(-45 202.80 432.00)">3d</text>
<text x="215.45" y="431.40" font-size="7.9" text-anchor="end" fill="#2a2a2a" stroke="#2a2a2a" stroke-width="0.15" transform="rotate(-45 215.45 431.40)">10d</text>
<line x1="47.30" y1="443.70" x2="75.40" y2="443.70" stroke="#222" stroke-width="1.2"/>
<line x1="81.90" y1="443.70" x2="108.80" y2="443.70" stroke="#222" stroke-width="1.2"/>
<line x1="116.60" y1="443.70" x2="143.80" y2="443.70" stroke="#222" stroke-width="1.2"/>
<line x1="151.20" y1="443.70" x2="179.60" y2="443.70" stroke="#222" stroke-width="1.2"/>
<line x1="185.90" y1="443.70" x2="213.50" y2="443.70" stroke="#222" stroke-width="1.2"/>
<g transform="rotate(-45 50.00 474.00)">
<text x="50.00" y="474.00" font-size="8.2" text-anchor="start" fill="#2a2a2a" stroke="#2a2a2a" stroke-width="0.15" textLength="22.60" lengthAdjust="spacingAndGlyphs">Vector</text>
</g>
<g transform="rotate(-45 84.40 474.60)">
<text x="84.40" y="474.60" font-size="8.2" text-anchor="start" fill="#2a2a2a" stroke="#2a2a2a" stroke-width="0.15" textLength="19.00" lengthAdjust="spacingAndGlyphs">EZH2</text>
<text x="103.70" y="471.60" font-size="5.8" text-anchor="start" fill="#2a2a2a" stroke="#2a2a2a" stroke-width="0.15" textLength="9.20" lengthAdjust="spacingAndGlyphs">WT</text>
</g>
<g transform="rotate(-45 116.00 478.20)">
<text x="116.00" y="478.20" font-size="8.2" text-anchor="start" fill="#2a2a2a" stroke="#2a2a2a" stroke-width="0.15" textLength="18.60" lengthAdjust="spacingAndGlyphs">EZH2</text>
<text x="134.90" y="475.20" font-size="5.8" text-anchor="start" fill="#2a2a2a" stroke="#2a2a2a" stroke-width="0.15" textLength="17.00" lengthAdjust="spacingAndGlyphs" style="font-style:italic">C663Y</text>
</g>
<g transform="rotate(-45 152.30 477.40)">
<text x="152.30" y="477.40" font-size="8.2" text-anchor="start" fill="#2a2a2a" stroke="#2a2a2a" stroke-width="0.15" textLength="18.60" lengthAdjust="spacingAndGlyphs">EZH2</text>
<text x="171.20" y="474.40" font-size="5.8" text-anchor="start" fill="#2a2a2a" stroke="#2a2a2a" stroke-width="0.15" textLength="15.50" lengthAdjust="spacingAndGlyphs" style="font-style:italic">E720G</text>
</g>
<g transform="rotate(-45 188.00 477.40)">
<text x="188.00" y="477.40" font-size="8.2" text-anchor="start" fill="#2a2a2a" stroke="#2a2a2a" stroke-width="0.15" textLength="18.60" lengthAdjust="spacingAndGlyphs">EZH2</text>
<text x="206.90" y="474.40" font-size="5.8" text-anchor="start" fill="#2a2a2a" stroke="#2a2a2a" stroke-width="0.15" textLength="15.50" lengthAdjust="spacingAndGlyphs" style="font-style:italic">Y726F</text>
</g>
<text x="221.60" y="308.40" font-size="11.2" text-anchor="start" fill="#111" stroke="#111" stroke-width="0.2" font-weight="bold" textLength="8.20" lengthAdjust="spacingAndGlyphs">D</text>
<line x1="233.20" y1="313.70" x2="241.00" y2="313.70" stroke="#4a5366" stroke-width="2.0"/>
<circle cx="237.10" cy="313.70" r="1.70" fill="#4a5366"/>
<text x="243.80" y="316.80" font-size="8.6" text-anchor="start" fill="#2a2a2a" stroke="#2a2a2a" stroke-width="0.15" textLength="20.80" lengthAdjust="spacingAndGlyphs">Vector</text>
<line x1="233.20" y1="323.40" x2="241.00" y2="323.40" stroke="#e0923a" stroke-width="2.0"/>
<circle cx="237.10" cy="323.40" r="1.70" fill="#e0923a"/>
<text x="243.80" y="326.50" font-size="8.6" text-anchor="start" fill="#2a2a2a" stroke="#2a2a2a" stroke-width="0.15" textLength="19.60" lengthAdjust="spacingAndGlyphs">EZH2</text>
<text x="263.40" y="323.30" font-size="5.8" text-anchor="start" fill="#2a2a2a" stroke="#2a2a2a" stroke-width="0.15" textLength="7.60" lengthAdjust="spacingAndGlyphs">WT</text>
<line x1="233.20" y1="333.60" x2="241.00" y2="333.60" stroke="#5aaa3c" stroke-width="2.0"/>
<circle cx="237.10" cy="333.60" r="1.70" fill="#5aaa3c"/>
<text x="243.80" y="336.70" font-size="8.6" text-anchor="start" fill="#2a2a2a" stroke="#2a2a2a" stroke-width="0.15" textLength="19.60" lengthAdjust="spacingAndGlyphs">EZH2</text>
<text x="263.40" y="333.50" font-size="5.8" text-anchor="start" fill="#2a2a2a" stroke="#2a2a2a" stroke-width="0.15" textLength="15.00" lengthAdjust="spacingAndGlyphs" style="font-style:italic">Y726F</text>
<line x1="282.80" y1="313.70" x2="290.70" y2="313.70" stroke="#a8163a" stroke-width="2.0"/>
<circle cx="286.75" cy="313.70" r="1.70" fill="#a8163a"/>
<text x="293.80" y="316.80" font-size="8.6" text-anchor="start" fill="#2a2a2a" stroke="#2a2a2a" stroke-width="0.15" textLength="57.50" lengthAdjust="spacingAndGlyphs">Vector + GSK126</text>
<line x1="282.80" y1="323.90" x2="290.70" y2="323.90" stroke="#f0c840" stroke-width="2.0"/>
<circle cx="286.75" cy="323.90" r="1.70" fill="#f0c840"/>
<text x="293.80" y="327.00" font-size="8.6" text-anchor="start" fill="#2a2a2a" stroke="#2a2a2a" stroke-width="0.15" textLength="19.60" lengthAdjust="spacingAndGlyphs">EZH2</text>
<text x="313.40" y="323.80" font-size="5.8" text-anchor="start" fill="#2a2a2a" stroke="#2a2a2a" stroke-width="0.15" textLength="8.30" lengthAdjust="spacingAndGlyphs">WT</text>
<text x="321.70" y="327.00" font-size="8.6" text-anchor="start" fill="#2a2a2a" stroke="#2a2a2a" stroke-width="0.15" textLength="34.00" lengthAdjust="spacingAndGlyphs">+ GSK126</text>
<line x1="282.80" y1="334.30" x2="290.70" y2="334.30" stroke="#2a3f8f" stroke-width="2.0"/>
<circle cx="286.75" cy="334.30" r="1.70" fill="#2a3f8f"/>
<text x="293.80" y="337.40" font-size="8.6" text-anchor="start" fill="#2a2a2a" stroke="#2a2a2a" stroke-width="0.15" textLength="19.60" lengthAdjust="spacingAndGlyphs">EZH2</text>
<text x="313.40" y="334.20" font-size="5.8" text-anchor="start" fill="#2a2a2a" stroke="#2a2a2a" stroke-width="0.15" textLength="17.00" lengthAdjust="spacingAndGlyphs" style="font-style:italic">Y726F</text>
<text x="330.40" y="337.40" font-size="8.6" text-anchor="start" fill="#2a2a2a" stroke="#2a2a2a" stroke-width="0.15" textLength="32.60" lengthAdjust="spacingAndGlyphs">+ GSK126</text>
<line x1="261.90" y1="393.80" x2="261.90" y2="408.70" stroke="#5a5a62" stroke-width="1.2"/>
<line x1="260.40" y1="393.80" x2="263.40" y2="393.80" stroke="#5a5a62" stroke-width="1.0"/>
<line x1="260.40" y1="408.70" x2="263.40" y2="408.70" stroke="#5a5a62" stroke-width="1.0"/>
<line x1="278.30" y1="384.10" x2="278.30" y2="413.50" stroke="#5a5a62" stroke-width="1.2"/>
<line x1="276.80" y1="384.10" x2="279.80" y2="384.10" stroke="#5a5a62" stroke-width="1.0"/>
<line x1="276.80" y1="413.50" x2="279.80" y2="413.50" stroke="#5a5a62" stroke-width="1.0"/>
<line x1="294.90" y1="376.00" x2="294.90" y2="400.50" stroke="#5a5a62" stroke-width="1.2"/>
<line x1="293.40" y1="376.00" x2="296.40" y2="376.00" stroke="#5a5a62" stroke-width="1.0"/>
<line x1="293.40" y1="400.50" x2="296.40" y2="400.50" stroke="#5a5a62" stroke-width="1.0"/>
<line x1="311.20" y1="370.70" x2="311.20" y2="396.80" stroke="#9a8a58" stroke-width="1.2"/>
<line x1="309.70" y1="370.70" x2="312.70" y2="370.70" stroke="#9a8a58" stroke-width="1.0"/>
<line x1="309.70" y1="396.80" x2="312.70" y2="396.80" stroke="#9a8a58" stroke-width="1.0"/>
<line x1="327.60" y1="363.10" x2="327.60" y2="395.80" stroke="#5a5a62" stroke-width="1.2"/>
<line x1="326.10" y1="363.10" x2="329.10" y2="363.10" stroke="#5a5a62" stroke-width="1.0"/>
<line x1="326.10" y1="395.80" x2="329.10" y2="395.80" stroke="#5a5a62" stroke-width="1.0"/>
<line x1="344.10" y1="359.80" x2="344.10" y2="393.60" stroke="#5a5a62" stroke-width="1.2"/>
<line x1="342.60" y1="359.80" x2="345.60" y2="359.80" stroke="#5a5a62" stroke-width="1.0"/>
<line x1="342.60" y1="393.60" x2="345.60" y2="393.60" stroke="#5a5a62" stroke-width="1.0"/>
<line x1="344.10" y1="398.00" x2="344.10" y2="404.50" stroke="#e8d070" stroke-width="1.2"/>
<line x1="342.60" y1="398.00" x2="345.60" y2="398.00" stroke="#e8d070" stroke-width="1.0"/>
<line x1="342.60" y1="404.50" x2="345.60" y2="404.50" stroke="#e8d070" stroke-width="1.0"/>
<line x1="278.35" y1="407.36" x2="278.35" y2="411.85" stroke="#a8163a" stroke-width="1.1"/>
<line x1="276.85" y1="407.36" x2="279.85" y2="407.36" stroke="#a8163a" stroke-width="1.0"/>
<line x1="276.85" y1="411.85" x2="279.85" y2="411.85" stroke="#a8163a" stroke-width="1.0"/>
<line x1="294.80" y1="415.69" x2="294.80" y2="416.98" stroke="#a8163a" stroke-width="1.1"/>
<line x1="293.30" y1="415.69" x2="296.30" y2="415.69" stroke="#a8163a" stroke-width="1.0"/>
<line x1="293.30" y1="416.98" x2="296.30" y2="416.98" stroke="#a8163a" stroke-width="1.0"/>
<line x1="311.25" y1="414.41" x2="311.25" y2="415.69" stroke="#a8163a" stroke-width="1.1"/>
<line x1="309.75" y1="414.41" x2="312.75" y2="414.41" stroke="#a8163a" stroke-width="1.0"/>
<line x1="309.75" y1="415.69" x2="312.75" y2="415.69" stroke="#a8163a" stroke-width="1.0"/>
<line x1="327.70" y1="414.09" x2="327.70" y2="416.01" stroke="#a8163a" stroke-width="1.1"/>
<line x1="326.20" y1="414.09" x2="329.20" y2="414.09" stroke="#a8163a" stroke-width="1.0"/>
<line x1="326.20" y1="416.01" x2="329.20" y2="416.01" stroke="#a8163a" stroke-width="1.0"/>
<line x1="344.15" y1="411.53" x2="344.15" y2="413.45" stroke="#a8163a" stroke-width="1.1"/>
<line x1="342.65" y1="411.53" x2="345.65" y2="411.53" stroke="#a8163a" stroke-width="1.0"/>
<line x1="342.65" y1="413.45" x2="345.65" y2="413.45" stroke="#a8163a" stroke-width="1.0"/>
<polyline points="261.90,400.95 278.35,407.04 294.80,405.44 311.25,399.35 327.70,398.71 344.15,401.27" fill="none" stroke="#f0c840" stroke-width="2.2" stroke-linejoin="round"/>
<circle cx="261.90" cy="400.95" r="1.76" fill="#f0c840"/>
<circle cx="278.35" cy="407.04" r="1.76" fill="#f0c840"/>
<circle cx="294.80" cy="405.44" r="1.76" fill="#f0c840"/>
<circle cx="311.25" cy="399.35" r="1.76" fill="#f0c840"/>
<circle cx="327.70" cy="398.71" r="1.76" fill="#f0c840"/>
<circle cx="344.15" cy="401.27" r="1.76" fill="#f0c840"/>
<polyline points="261.90,400.95 278.35,409.60 294.80,416.33 311.25,415.05 327.70,415.05 344.15,412.49" fill="none" stroke="#a8163a" stroke-width="2.2" stroke-linejoin="round"/>
<circle cx="261.90" cy="400.95" r="1.76" fill="#a8163a"/>
<circle cx="278.35" cy="409.60" r="1.76" fill="#a8163a"/>
<circle cx="294.80" cy="416.33" r="1.76" fill="#a8163a"/>
<circle cx="311.25" cy="415.05" r="1.76" fill="#a8163a"/>
<circle cx="327.70" cy="415.05" r="1.76" fill="#a8163a"/>
<circle cx="344.15" cy="412.49" r="1.76" fill="#a8163a"/>
<polyline points="261.90,400.95 278.35,399.03 294.80,397.10 311.25,392.30 327.70,392.94 344.15,389.73" fill="none" stroke="#2a3f8f" stroke-width="2.2" stroke-linejoin="round"/>
<circle cx="261.90" cy="400.95" r="1.76" fill="#2a3f8f"/>
<circle cx="278.35" cy="399.03" r="1.76" fill="#2a3f8f"/>
<circle cx="294.80" cy="397.10" r="1.76" fill="#2a3f8f"/>
<circle cx="311.25" cy="392.30" r="1.76" fill="#2a3f8f"/>
<circle cx="327.70" cy="392.94" r="1.76" fill="#2a3f8f"/>
<circle cx="344.15" cy="389.73" r="1.76" fill="#2a3f8f"/>
<polyline points="261.90,400.95 278.35,390.37 294.80,387.49 311.25,386.53 327.70,385.25 344.15,384.60" fill="none" stroke="#5aaa3c" stroke-width="2.2" stroke-linejoin="round"/>
<circle cx="261.90" cy="400.95" r="1.76" fill="#5aaa3c"/>
<circle cx="278.35" cy="390.37" r="1.76" fill="#5aaa3c"/>
<circle cx="294.80" cy="387.49" r="1.76" fill="#5aaa3c"/>
<circle cx="311.25" cy="386.53" r="1.76" fill="#5aaa3c"/>
<circle cx="327.70" cy="385.25" r="1.76" fill="#5aaa3c"/>
<circle cx="344.15" cy="384.60" r="1.76" fill="#5aaa3c"/>
<polyline points="261.90,400.95 278.35,397.75 294.80,386.21 311.25,384.28 327.70,377.23 344.15,373.39" fill="none" stroke="#e0923a" stroke-width="2.2" stroke-linejoin="round"/>
<circle cx="261.90" cy="400.95" r="1.76" fill="#e0923a"/>
<circle cx="278.35" cy="397.75" r="1.76" fill="#e0923a"/>
<circle cx="294.80" cy="386.21" r="1.76" fill="#e0923a"/>
<circle cx="311.25" cy="384.28" r="1.76" fill="#e0923a"/>
<circle cx="327.70" cy="377.23" r="1.76" fill="#e0923a"/>
<circle cx="344.15" cy="373.39" r="1.76" fill="#e0923a"/>
<polyline points="261.90,400.95 278.35,397.10 294.80,384.60 311.25,384.28 327.70,370.18 344.15,368.58" fill="none" stroke="#4a5366" stroke-width="2.2" stroke-linejoin="round"/>
<circle cx="261.90" cy="400.95" r="1.76" fill="#4a5366"/>
<circle cx="278.35" cy="397.10" r="1.76" fill="#4a5366"/>
<circle cx="294.80" cy="384.60" r="1.76" fill="#4a5366"/>
<circle cx="311.25" cy="384.28" r="1.76" fill="#4a5366"/>
<circle cx="327.70" cy="370.18" r="1.76" fill="#4a5366"/>
<circle cx="344.15" cy="368.58" r="1.76" fill="#4a5366"/>
<line x1="252.90" y1="350.50" x2="252.90" y2="433.70" stroke="#111" stroke-width="1.4"/>
<line x1="252.20" y1="433.00" x2="351.30" y2="433.00" stroke="#111" stroke-width="1.4"/>
<line x1="249.30" y1="433.00" x2="252.90" y2="433.00" stroke="#111" stroke-width="1.2"/>
<text x="247.90" y="435.95" font-size="8.3" text-anchor="end" fill="#2a2a2a" stroke="#2a2a2a" stroke-width="0.15">0</text>
<line x1="249.30" y1="416.98" x2="252.90" y2="416.98" stroke="#111" stroke-width="1.2"/>
<text x="247.90" y="419.93" font-size="8.3" text-anchor="end" fill="#2a2a2a" stroke="#2a2a2a" stroke-width="0.15">50</text>
<line x1="249.30" y1="400.95" x2="252.90" y2="400.95" stroke="#111" stroke-width="1.2"/>
<text x="247.90" y="403.90" font-size="8.3" text-anchor="end" fill="#2a2a2a" stroke="#2a2a2a" stroke-width="0.15">100</text>
<line x1="249.30" y1="384.93" x2="252.90" y2="384.93" stroke="#111" stroke-width="1.2"/>
<text x="247.90" y="387.88" font-size="8.3" text-anchor="end" fill="#2a2a2a" stroke="#2a2a2a" stroke-width="0.15">150</text>
<line x1="249.30" y1="368.90" x2="252.90" y2="368.90" stroke="#111" stroke-width="1.2"/>
<text x="247.90" y="371.85" font-size="8.3" text-anchor="end" fill="#2a2a2a" stroke="#2a2a2a" stroke-width="0.15">200</text>
<line x1="249.30" y1="352.88" x2="252.90" y2="352.88" stroke="#111" stroke-width="1.2"/>
<text x="247.90" y="355.82" font-size="8.3" text-anchor="end" fill="#2a2a2a" stroke="#2a2a2a" stroke-width="0.15">250</text>
<line x1="261.90" y1="433.00" x2="261.90" y2="436.60" stroke="#111" stroke-width="1.2"/>
<text x="261.90" y="445.30" font-size="8.0" text-anchor="middle" fill="#2a2a2a" stroke="#2a2a2a" stroke-width="0.15">0</text>
<line x1="278.35" y1="433.00" x2="278.35" y2="436.60" stroke="#111" stroke-width="1.2"/>
<text x="278.35" y="445.30" font-size="8.0" text-anchor="middle" fill="#2a2a2a" stroke="#2a2a2a" stroke-width="0.15">7</text>
<line x1="294.80" y1="433.00" x2="294.80" y2="436.60" stroke="#111" stroke-width="1.2"/>
<text x="294.80" y="445.30" font-size="8.0" text-anchor="middle" fill="#2a2a2a" stroke="#2a2a2a" stroke-width="0.15">14</text>
<line x1="311.25" y1="433.00" x2="311.25" y2="436.60" stroke="#111" stroke-width="1.2"/>
<text x="311.25" y="445.30" font-size="8.0" text-anchor="middle" fill="#2a2a2a" stroke="#2a2a2a" stroke-width="0.15">21</text>
<line x1="327.70" y1="433.00" x2="327.70" y2="436.60" stroke="#111" stroke-width="1.2"/>
<text x="327.70" y="445.30" font-size="8.0" text-anchor="middle" fill="#2a2a2a" stroke="#2a2a2a" stroke-width="0.15">28</text>
<line x1="344.15" y1="433.00" x2="344.15" y2="436.60" stroke="#111" stroke-width="1.2"/>
<text x="344.15" y="445.30" font-size="8.0" text-anchor="middle" fill="#2a2a2a" stroke="#2a2a2a" stroke-width="0.15">35</text>
<text x="303.80" y="458.40" font-size="8.6" text-anchor="middle" fill="#2a2a2a" stroke="#2a2a2a" stroke-width="0.15" textLength="16.50" lengthAdjust="spacingAndGlyphs">Days</text>
<text x="229.40" y="393.80" font-size="8.4" text-anchor="middle" fill="#2a2a2a" stroke="#2a2a2a" stroke-width="0.15" textLength="83.00" lengthAdjust="spacingAndGlyphs" transform="rotate(-90 229.40 393.80)">Relative tumor volumes (%)</text>
<line x1="346.40" y1="384.40" x2="346.40" y2="390.00" stroke="#111" stroke-width="1.0"/>
<text x="346.80" y="389.50" font-size="7.2" text-anchor="start" fill="#2a2a2a" stroke="#2a2a2a" stroke-width="0.15">ns</text>
<line x1="354.40" y1="366.60" x2="354.40" y2="413.20" stroke="#2a2a2a" stroke-width="1.2"/>
<line x1="356.70" y1="374.70" x2="356.70" y2="401.00" stroke="#2a2a2a" stroke-width="1.2"/>
<path d="M362.00,386.05L362.00,388.55M363.08,386.68L360.92,387.93M363.08,387.93L360.92,386.68" stroke="#222" stroke-width="0.85" fill="none"/>
<path d="M362.00,389.25L362.00,391.75M363.08,389.88L360.92,391.12M363.08,391.12L360.92,389.88" stroke="#222" stroke-width="0.85" fill="none"/>
<path d="M362.00,392.45L362.00,394.95M363.08,393.07L360.92,394.32M363.08,394.32L360.92,393.07" stroke="#222" stroke-width="0.85" fill="none"/>
<text x="363.80" y="353.00" font-size="8.6" text-anchor="start" fill="#2a2a2a" stroke="#2a2a2a" stroke-width="0.15" textLength="33.40" lengthAdjust="spacingAndGlyphs">GSK126 :</text>
<line x1="402.75" y1="350.80" x2="404.75" y2="350.80" stroke="#333" stroke-width="0.9"/>
<line x1="419.95" y1="350.80" x2="423.55" y2="350.80" stroke="#333" stroke-width="0.9"/>
<line x1="421.75" y1="349.00" x2="421.75" y2="352.60" stroke="#333" stroke-width="0.9"/>
<line x1="441.50" y1="350.80" x2="443.50" y2="350.80" stroke="#333" stroke-width="0.9"/>
<line x1="461.45" y1="350.80" x2="465.05" y2="350.80" stroke="#333" stroke-width="0.9"/>
<line x1="463.25" y1="349.00" x2="463.25" y2="352.60" stroke="#333" stroke-width="0.9"/>
<line x1="484.50" y1="350.80" x2="486.50" y2="350.80" stroke="#333" stroke-width="0.9"/>
<line x1="501.95" y1="350.80" x2="505.55" y2="350.80" stroke="#333" stroke-width="0.9"/>
<line x1="503.75" y1="349.00" x2="503.75" y2="352.60" stroke="#333" stroke-width="0.9"/>
<text x="402.00" y="339.80" font-size="8.6" text-anchor="start" fill="#2a2a2a" stroke="#2a2a2a" stroke-width="0.15" textLength="23.00" lengthAdjust="spacingAndGlyphs">Vector</text>
<line x1="402.00" y1="342.60" x2="428.70" y2="342.60" stroke="#222" stroke-width="1.1"/>
<text x="438.80" y="339.80" font-size="8.6" text-anchor="start" fill="#2a2a2a" stroke="#2a2a2a" stroke-width="0.15" textLength="19.00" lengthAdjust="spacingAndGlyphs">EZH2</text>
<text x="458.00" y="336.00" font-size="5.8" text-anchor="start" fill="#2a2a2a" stroke="#2a2a2a" stroke-width="0.15" textLength="15.80" lengthAdjust="spacingAndGlyphs" style="font-style:italic">Y726F</text>
<line x1="438.80" y1="342.60" x2="469.50" y2="342.60" stroke="#222" stroke-width="1.1"/>
<text x="480.00" y="339.80" font-size="8.6" text-anchor="start" fill="#2a2a2a" stroke="#2a2a2a" stroke-width="0.15" textLength="19.00" lengthAdjust="spacingAndGlyphs">EZH2</text>
<text x="499.20" y="336.00" font-size="5.8" text-anchor="start" fill="#2a2a2a" stroke="#2a2a2a" stroke-width="0.15" textLength="8.30" lengthAdjust="spacingAndGlyphs">WT</text>
<line x1="480.00" y1="342.60" x2="508.70" y2="342.60" stroke="#222" stroke-width="1.1"/>
<defs><linearGradient id="pg1" x1="0" y1="0" x2="1" y2="1"><stop offset="0" stop-color="#d9d6b0"/><stop offset="1" stop-color="#cfcba0"/></linearGradient></defs>
<rect x="396.60" y="356.80" width="117.20" height="66.00" fill="url(#pg1)" stroke="none" stroke-width="1"/>
<g filter="url(#tb)">
<ellipse cx="405.61" cy="363.59" rx="4.12" ry="4.30" fill="#dcc890" opacity="0.75"/>
<ellipse cx="405.61" cy="363.59" rx="3.02" ry="3.20" fill="#d2b064"/>
<ellipse cx="405.53" cy="363.69" rx="1.66" ry="1.60" fill="#ae9048" opacity="0.55"/>
<ellipse cx="405.80" cy="375.60" rx="4.44" ry="4.65" fill="#dcc890" opacity="0.75"/>
<ellipse cx="405.80" cy="375.60" rx="3.34" ry="3.55" fill="#d2b064"/>
<ellipse cx="406.48" cy="375.55" rx="1.84" ry="1.77" fill="#ae9048" opacity="0.55"/>
<ellipse cx="406.31" cy="388.41" rx="3.92" ry="4.09" fill="#dcc890" opacity="0.75"/>
<ellipse cx="406.31" cy="388.41" rx="2.82" ry="2.99" fill="#d2b064"/>
<ellipse cx="406.32" cy="388.55" rx="1.55" ry="1.49" fill="#ae9048" opacity="0.55"/>
<ellipse cx="406.69" cy="401.95" rx="4.11" ry="4.30" fill="#dcc890" opacity="0.75"/>
<ellipse cx="406.69" cy="401.95" rx="3.01" ry="3.20" fill="#d2b064"/>
<ellipse cx="406.19" cy="401.97" rx="1.66" ry="1.60" fill="#ae9048" opacity="0.55"/>
<ellipse cx="405.44" cy="415.22" rx="4.65" ry="4.87" fill="#dcc890" opacity="0.75"/>
<ellipse cx="405.44" cy="415.22" rx="3.55" ry="3.77" fill="#d2b064"/>
<ellipse cx="405.65" cy="415.69" rx="1.95" ry="1.88" fill="#ae9048" opacity="0.55"/>
<ellipse cx="425.32" cy="364.39" rx="3.33" ry="3.33" fill="#dcc890" opacity="0.75"/>
<ellipse cx="425.32" cy="364.39" rx="2.23" ry="2.23" fill="#d2b064"/>
<ellipse cx="424.67" cy="364.07" rx="1.22" ry="1.11" fill="#ae9048" opacity="0.55"/>
<ellipse cx="425.58" cy="376.57" rx="3.58" ry="3.58" fill="#dcc890" opacity="0.75"/>
<ellipse cx="425.58" cy="376.57" rx="2.48" ry="2.48" fill="#d2b064"/>
<ellipse cx="424.92" cy="377.07" rx="1.36" ry="1.24" fill="#ae9048" opacity="0.55"/>
<ellipse cx="425.62" cy="388.95" rx="3.27" ry="3.27" fill="#dcc890" opacity="0.75"/>
<ellipse cx="425.62" cy="388.95" rx="2.17" ry="2.17" fill="#d2b064"/>
<ellipse cx="425.93" cy="388.21" rx="1.19" ry="1.08" fill="#ae9048" opacity="0.55"/>
<ellipse cx="423.87" cy="402.58" rx="3.43" ry="3.43" fill="#dcc890" opacity="0.75"/>
<ellipse cx="423.87" cy="402.58" rx="2.33" ry="2.33" fill="#d2b064"/>
<ellipse cx="424.65" cy="403.33" rx="1.28" ry="1.16" fill="#ae9048" opacity="0.55"/>
<ellipse cx="425.53" cy="415.61" rx="3.54" ry="3.54" fill="#dcc890" opacity="0.75"/>
<ellipse cx="425.53" cy="415.61" rx="2.44" ry="2.44" fill="#d2b064"/>
<ellipse cx="425.77" cy="415.79" rx="1.34" ry="1.22" fill="#ae9048" opacity="0.55"/>
<ellipse cx="445.21" cy="363.63" rx="4.33" ry="4.65" fill="#dcc890" opacity="0.75"/>
<ellipse cx="445.21" cy="363.63" rx="3.23" ry="3.55" fill="#d2b064"/>
<ellipse cx="444.66" cy="362.86" rx="1.78" ry="1.77" fill="#ae9048" opacity="0.55"/>
<ellipse cx="444.07" cy="377.00" rx="4.41" ry="4.73" fill="#dcc890" opacity="0.75"/>
<ellipse cx="444.07" cy="377.00" rx="3.31" ry="3.63" fill="#d2b064"/>
<ellipse cx="444.11" cy="376.29" rx="1.82" ry="1.81" fill="#ae9048" opacity="0.55"/>
<ellipse cx="443.23" cy="388.22" rx="4.47" ry="4.80" fill="#dcc890" opacity="0.75"/>
<ellipse cx="443.23" cy="388.22" rx="3.37" ry="3.70" fill="#d2b064"/>
<ellipse cx="442.74" cy="387.80" rx="1.85" ry="1.85" fill="#ae9048" opacity="0.55"/>
<ellipse cx="445.32" cy="401.90" rx="3.92" ry="4.19" fill="#dcc890" opacity="0.75"/>
<ellipse cx="445.32" cy="401.90" rx="2.82" ry="3.09" fill="#d2b064"/>
<ellipse cx="444.57" cy="401.84" rx="1.55" ry="1.54" fill="#ae9048" opacity="0.55"/>
<ellipse cx="443.72" cy="415.01" rx="4.26" ry="4.57" fill="#dcc890" opacity="0.75"/>
<ellipse cx="443.72" cy="415.01" rx="3.16" ry="3.47" fill="#d2b064"/>
<ellipse cx="443.63" cy="415.56" rx="1.74" ry="1.73" fill="#ae9048" opacity="0.55"/>
<ellipse cx="467.24" cy="363.94" rx="4.73" ry="4.44" fill="#dcc890" opacity="0.75"/>
<ellipse cx="467.24" cy="363.94" rx="3.63" ry="3.34" fill="#d2b064"/>
<ellipse cx="467.27" cy="364.16" rx="1.99" ry="1.67" fill="#ae9048" opacity="0.55"/>
<ellipse cx="468.57" cy="376.59" rx="4.93" ry="4.63" fill="#dcc890" opacity="0.75"/>
<ellipse cx="468.57" cy="376.59" rx="3.83" ry="3.53" fill="#d2b064"/>
<ellipse cx="468.57" cy="376.85" rx="2.11" ry="1.76" fill="#ae9048" opacity="0.55"/>
<ellipse cx="468.46" cy="389.59" rx="5.28" ry="4.95" fill="#dcc890" opacity="0.75"/>
<ellipse cx="468.46" cy="389.59" rx="4.18" ry="3.85" fill="#d2b064"/>
<ellipse cx="468.39" cy="389.23" rx="2.30" ry="1.93" fill="#ae9048" opacity="0.55"/>
<ellipse cx="466.79" cy="402.58" rx="5.02" ry="4.71" fill="#dcc890" opacity="0.75"/>
<ellipse cx="466.79" cy="402.58" rx="3.92" ry="3.61" fill="#d2b064"/>
<ellipse cx="467.59" cy="403.37" rx="2.16" ry="1.80" fill="#ae9048" opacity="0.55"/>
<ellipse cx="468.57" cy="415.11" rx="5.32" ry="4.99" fill="#dcc890" opacity="0.75"/>
<ellipse cx="468.57" cy="415.11" rx="4.22" ry="3.89" fill="#d2b064"/>
<ellipse cx="469.12" cy="415.44" rx="2.32" ry="1.94" fill="#ae9048" opacity="0.55"/>
<ellipse cx="486.91" cy="364.33" rx="5.06" ry="4.85" fill="#dcc890" opacity="0.75"/>
<ellipse cx="486.91" cy="364.33" rx="3.96" ry="3.75" fill="#d2b064"/>
<ellipse cx="486.61" cy="363.90" rx="2.18" ry="1.88" fill="#ae9048" opacity="0.55"/>
<ellipse cx="487.08" cy="375.60" rx="4.92" ry="4.72" fill="#dcc890" opacity="0.75"/>
<ellipse cx="487.08" cy="375.60" rx="3.82" ry="3.62" fill="#d2b064"/>
<ellipse cx="486.75" cy="374.91" rx="2.10" ry="1.81" fill="#ae9048" opacity="0.55"/>
<ellipse cx="488.78" cy="388.14" rx="5.21" ry="4.99" fill="#dcc890" opacity="0.75"/>
<ellipse cx="488.78" cy="388.14" rx="4.11" ry="3.89" fill="#d2b064"/>
<ellipse cx="489.20" cy="387.98" rx="2.26" ry="1.95" fill="#ae9048" opacity="0.55"/>
<ellipse cx="487.39" cy="401.44" rx="5.15" ry="4.94" fill="#dcc890" opacity="0.75"/>
<ellipse cx="487.39" cy="401.44" rx="4.05" ry="3.84" fill="#d2b064"/>
<ellipse cx="487.94" cy="401.26" rx="2.23" ry="1.92" fill="#ae9048" opacity="0.55"/>
<ellipse cx="488.25" cy="415.60" rx="4.63" ry="4.45" fill="#dcc890" opacity="0.75"/>
<ellipse cx="488.25" cy="415.60" rx="3.53" ry="3.35" fill="#d2b064"/>
<ellipse cx="488.98" cy="416.15" rx="1.94" ry="1.67" fill="#ae9048" opacity="0.55"/>
<ellipse cx="505.67" cy="363.07" rx="3.34" ry="3.34" fill="#dcc890" opacity="0.75"/>
<ellipse cx="505.67" cy="363.07" rx="2.24" ry="2.24" fill="#d2b064"/>
<ellipse cx="504.88" cy="362.61" rx="1.23" ry="1.12" fill="#ae9048" opacity="0.55"/>
<ellipse cx="504.99" cy="376.91" rx="3.81" ry="3.81" fill="#dcc890" opacity="0.75"/>
<ellipse cx="504.99" cy="376.91" rx="2.71" ry="2.71" fill="#d2b064"/>
<ellipse cx="505.65" cy="376.86" rx="1.49" ry="1.36" fill="#ae9048" opacity="0.55"/>
<ellipse cx="505.41" cy="389.60" rx="4.00" ry="4.00" fill="#dcc890" opacity="0.75"/>
<ellipse cx="505.41" cy="389.60" rx="2.90" ry="2.90" fill="#d2b064"/>
<ellipse cx="506.18" cy="389.43" rx="1.59" ry="1.45" fill="#ae9048" opacity="0.55"/>
<ellipse cx="504.38" cy="402.16" rx="3.53" ry="3.53" fill="#dcc890" opacity="0.75"/>
<ellipse cx="504.38" cy="402.16" rx="2.43" ry="2.43" fill="#d2b064"/>
<ellipse cx="503.70" cy="402.37" rx="1.34" ry="1.21" fill="#ae9048" opacity="0.55"/>
<ellipse cx="504.67" cy="414.85" rx="3.33" ry="3.33" fill="#dcc890" opacity="0.75"/>
<ellipse cx="504.67" cy="414.85" rx="2.23" ry="2.23" fill="#d2b064"/>
<ellipse cx="505.12" cy="414.48" rx="1.23" ry="1.12" fill="#ae9048" opacity="0.55"/>
</g>
<rect x="397.20" y="357.40" width="116.00" height="64.80" fill="none" stroke="#3a3828" stroke-width="1.4"/>
<text x="7.30" y="501.80" font-size="11.2" text-anchor="start" fill="#111" stroke="#111" stroke-width="0.2" font-weight="bold" textLength="6.40" lengthAdjust="spacingAndGlyphs">E</text>
<line x1="49.60" y1="507.20" x2="57.00" y2="507.20" stroke="#5a6070" stroke-width="2.0"/>
<circle cx="53.30" cy="507.20" r="1.70" fill="#5a6070"/>
<text x="60.00" y="510.30" font-size="8.6" text-anchor="start" fill="#2a2a2a" stroke="#2a2a2a" stroke-width="0.15" textLength="21.50" lengthAdjust="spacingAndGlyphs">Vector</text>
<line x1="49.60" y1="518.30" x2="57.00" y2="518.30" stroke="#42305e" stroke-width="2.0"/>
<circle cx="53.30" cy="518.30" r="1.70" fill="#42305e"/>
<text x="60.00" y="521.40" font-size="8.6" text-anchor="start" fill="#2a2a2a" stroke="#2a2a2a" stroke-width="0.15" textLength="24.70" lengthAdjust="spacingAndGlyphs">PI3KCA</text>
<line x1="91.20" y1="507.20" x2="99.20" y2="507.20" stroke="#a01840" stroke-width="2.0"/>
<circle cx="95.20" cy="507.20" r="1.70" fill="#a01840"/>
<text x="102.70" y="510.30" font-size="8.6" text-anchor="start" fill="#2a2a2a" stroke="#2a2a2a" stroke-width="0.15" textLength="21.20" lengthAdjust="spacingAndGlyphs">Vector</text>
<text x="129.20" y="510.30" font-size="8.6" text-anchor="start" fill="#2a2a2a" stroke="#2a2a2a" stroke-width="0.15" textLength="31.20" lengthAdjust="spacingAndGlyphs">+ GSK126</text>
<line x1="91.20" y1="518.30" x2="99.20" y2="518.30" stroke="#8cc46a" stroke-width="2.0"/>
<circle cx="95.20" cy="518.30" r="1.70" fill="#8cc46a"/>
<text x="102.70" y="521.40" font-size="8.6" text-anchor="start" fill="#2a2a2a" stroke="#2a2a2a" stroke-width="0.15" textLength="57.70" lengthAdjust="spacingAndGlyphs">PI3KCA+ GSK126</text>
<line x1="58.10" y1="561.00" x2="58.10" y2="571.50" stroke="#55555e" stroke-width="1.2"/>
<line x1="56.60" y1="561.00" x2="59.60" y2="561.00" stroke="#55555e" stroke-width="1.0"/>
<line x1="56.60" y1="571.50" x2="59.60" y2="571.50" stroke="#55555e" stroke-width="1.0"/>
<line x1="74.40" y1="546.90" x2="74.40" y2="567.70" stroke="#55555e" stroke-width="1.2"/>
<line x1="72.90" y1="546.90" x2="75.90" y2="546.90" stroke="#55555e" stroke-width="1.0"/>
<line x1="72.90" y1="567.70" x2="75.90" y2="567.70" stroke="#55555e" stroke-width="1.0"/>
<line x1="91.00" y1="543.10" x2="91.00" y2="556.20" stroke="#55555e" stroke-width="1.2"/>
<line x1="89.50" y1="543.10" x2="92.50" y2="543.10" stroke="#55555e" stroke-width="1.0"/>
<line x1="89.50" y1="556.20" x2="92.50" y2="556.20" stroke="#55555e" stroke-width="1.0"/>
<line x1="107.70" y1="540.40" x2="107.70" y2="559.00" stroke="#55555e" stroke-width="1.2"/>
<line x1="106.20" y1="540.40" x2="109.20" y2="540.40" stroke="#55555e" stroke-width="1.0"/>
<line x1="106.20" y1="559.00" x2="109.20" y2="559.00" stroke="#55555e" stroke-width="1.0"/>
<line x1="124.60" y1="542.70" x2="124.60" y2="559.00" stroke="#55555e" stroke-width="1.2"/>
<line x1="123.10" y1="542.70" x2="126.10" y2="542.70" stroke="#55555e" stroke-width="1.0"/>
<line x1="123.10" y1="559.00" x2="126.10" y2="559.00" stroke="#55555e" stroke-width="1.0"/>
<line x1="140.80" y1="542.70" x2="140.80" y2="553.30" stroke="#55555e" stroke-width="1.2"/>
<line x1="139.30" y1="542.70" x2="142.30" y2="542.70" stroke="#55555e" stroke-width="1.0"/>
<line x1="139.30" y1="553.30" x2="142.30" y2="553.30" stroke="#55555e" stroke-width="1.0"/>
<line x1="74.40" y1="568.70" x2="74.40" y2="574.40" stroke="#a01840" stroke-width="1.2"/>
<line x1="72.90" y1="568.70" x2="75.90" y2="568.70" stroke="#a01840" stroke-width="1.0"/>
<line x1="72.90" y1="574.40" x2="75.90" y2="574.40" stroke="#a01840" stroke-width="1.0"/>
<line x1="91.00" y1="572.50" x2="91.00" y2="581.20" stroke="#a01840" stroke-width="1.2"/>
<line x1="89.50" y1="572.50" x2="92.50" y2="572.50" stroke="#a01840" stroke-width="1.0"/>
<line x1="89.50" y1="581.20" x2="92.50" y2="581.20" stroke="#a01840" stroke-width="1.0"/>
<line x1="107.70" y1="571.50" x2="107.70" y2="578.30" stroke="#a01840" stroke-width="1.2"/>
<line x1="106.20" y1="571.50" x2="109.20" y2="571.50" stroke="#a01840" stroke-width="1.0"/>
<line x1="106.20" y1="578.30" x2="109.20" y2="578.30" stroke="#a01840" stroke-width="1.0"/>
<line x1="124.60" y1="581.20" x2="124.60" y2="587.30" stroke="#a01840" stroke-width="1.2"/>
<line x1="123.10" y1="581.20" x2="126.10" y2="581.20" stroke="#a01840" stroke-width="1.0"/>
<line x1="123.10" y1="587.30" x2="126.10" y2="587.30" stroke="#a01840" stroke-width="1.0"/>
<line x1="140.80" y1="572.50" x2="140.80" y2="580.20" stroke="#a01840" stroke-width="1.2"/>
<line x1="139.30" y1="572.50" x2="142.30" y2="572.50" stroke="#a01840" stroke-width="1.0"/>
<line x1="139.30" y1="580.20" x2="142.30" y2="580.20" stroke="#a01840" stroke-width="1.0"/>
<polyline points="58.00,565.60 74.55,570.76 91.10,576.32 107.65,574.73 124.20,584.66 140.75,576.72" fill="none" stroke="#a01840" stroke-width="2.1" stroke-linejoin="round"/>
<circle cx="58.00" cy="565.60" r="1.68" fill="#a01840"/>
<circle cx="74.55" cy="570.76" r="1.68" fill="#a01840"/>
<circle cx="91.10" cy="576.32" r="1.68" fill="#a01840"/>
<circle cx="107.65" cy="574.73" r="1.68" fill="#a01840"/>
<circle cx="124.20" cy="584.66" r="1.68" fill="#a01840"/>
<circle cx="140.75" cy="576.72" r="1.68" fill="#a01840"/>
<polyline points="58.00,565.60 74.55,555.28 91.10,549.33 107.65,554.09 124.20,549.33 140.75,543.77" fill="none" stroke="#8cc46a" stroke-width="2.1" stroke-linejoin="round"/>
<circle cx="58.00" cy="565.60" r="1.68" fill="#8cc46a"/>
<circle cx="74.55" cy="555.28" r="1.68" fill="#8cc46a"/>
<circle cx="91.10" cy="549.33" r="1.68" fill="#8cc46a"/>
<circle cx="107.65" cy="554.09" r="1.68" fill="#8cc46a"/>
<circle cx="124.20" cy="549.33" r="1.68" fill="#8cc46a"/>
<circle cx="140.75" cy="543.77" r="1.68" fill="#8cc46a"/>
<polyline points="58.00,565.60 74.55,560.84 91.10,549.33 107.65,549.33 124.20,553.69 140.75,548.13" fill="none" stroke="#5a6070" stroke-width="2.1" stroke-linejoin="round"/>
<circle cx="58.00" cy="565.60" r="1.68" fill="#5a6070"/>
<circle cx="74.55" cy="560.84" r="1.68" fill="#5a6070"/>
<circle cx="91.10" cy="549.33" r="1.68" fill="#5a6070"/>
<circle cx="107.65" cy="549.33" r="1.68" fill="#5a6070"/>
<circle cx="124.20" cy="553.69" r="1.68" fill="#5a6070"/>
<circle cx="140.75" cy="548.13" r="1.68" fill="#5a6070"/>
<polyline points="58.00,565.60 74.55,555.28 91.10,549.33 107.65,548.53 124.20,548.93 140.75,543.77" fill="none" stroke="#42305e" stroke-width="2.1" stroke-linejoin="round"/>
<circle cx="58.00" cy="565.60" r="1.68" fill="#42305e"/>
<circle cx="74.55" cy="555.28" r="1.68" fill="#42305e"/>
<circle cx="91.10" cy="549.33" r="1.68" fill="#42305e"/>
<circle cx="107.65" cy="548.53" r="1.68" fill="#42305e"/>
<circle cx="124.20" cy="548.93" r="1.68" fill="#42305e"/>
<circle cx="140.75" cy="543.77" r="1.68" fill="#42305e"/>
<line x1="48.90" y1="523.60" x2="48.90" y2="606.40" stroke="#111" stroke-width="1.4"/>
<line x1="48.20" y1="605.70" x2="149.90" y2="605.70" stroke="#111" stroke-width="1.4"/>
<line x1="45.30" y1="605.70" x2="48.90" y2="605.70" stroke="#111" stroke-width="1.2"/>
<text x="43.90" y="608.65" font-size="8.3" text-anchor="end" fill="#2a2a2a" stroke="#2a2a2a" stroke-width="0.15">0</text>
<line x1="45.30" y1="585.85" x2="48.90" y2="585.85" stroke="#111" stroke-width="1.2"/>
<text x="43.90" y="588.80" font-size="8.3" text-anchor="end" fill="#2a2a2a" stroke="#2a2a2a" stroke-width="0.15">50</text>
<line x1="45.30" y1="566.00" x2="48.90" y2="566.00" stroke="#111" stroke-width="1.2"/>
<text x="43.90" y="568.95" font-size="8.3" text-anchor="end" fill="#2a2a2a" stroke="#2a2a2a" stroke-width="0.15">100</text>
<line x1="45.30" y1="546.15" x2="48.90" y2="546.15" stroke="#111" stroke-width="1.2"/>
<text x="43.90" y="549.10" font-size="8.3" text-anchor="end" fill="#2a2a2a" stroke="#2a2a2a" stroke-width="0.15">150</text>
<line x1="45.30" y1="526.30" x2="48.90" y2="526.30" stroke="#111" stroke-width="1.2"/>
<text x="43.90" y="529.25" font-size="8.3" text-anchor="end" fill="#2a2a2a" stroke="#2a2a2a" stroke-width="0.15">200</text>
<line x1="58.00" y1="605.70" x2="58.00" y2="609.30" stroke="#111" stroke-width="1.2"/>
<text x="58.00" y="619.30" font-size="8.0" text-anchor="middle" fill="#2a2a2a" stroke="#2a2a2a" stroke-width="0.15">0</text>
<line x1="74.55" y1="605.70" x2="74.55" y2="609.30" stroke="#111" stroke-width="1.2"/>
<text x="74.55" y="619.30" font-size="8.0" text-anchor="middle" fill="#2a2a2a" stroke="#2a2a2a" stroke-width="0.15">7</text>
<line x1="91.10" y1="605.70" x2="91.10" y2="609.30" stroke="#111" stroke-width="1.2"/>
<text x="91.10" y="619.30" font-size="8.0" text-anchor="middle" fill="#2a2a2a" stroke="#2a2a2a" stroke-width="0.15">14</text>
<line x1="107.65" y1="605.70" x2="107.65" y2="609.30" stroke="#111" stroke-width="1.2"/>
<text x="107.65" y="619.30" font-size="8.0" text-anchor="middle" fill="#2a2a2a" stroke="#2a2a2a" stroke-width="0.15">21</text>
<line x1="124.20" y1="605.70" x2="124.20" y2="609.30" stroke="#111" stroke-width="1.2"/>
<text x="124.20" y="619.30" font-size="8.0" text-anchor="middle" fill="#2a2a2a" stroke="#2a2a2a" stroke-width="0.15">28</text>
<line x1="140.75" y1="605.70" x2="140.75" y2="609.30" stroke="#111" stroke-width="1.2"/>
<text x="140.75" y="619.30" font-size="8.0" text-anchor="middle" fill="#2a2a2a" stroke="#2a2a2a" stroke-width="0.15">35</text>
<text x="99.20" y="632.50" font-size="8.6" text-anchor="middle" fill="#2a2a2a" stroke="#2a2a2a" stroke-width="0.15" textLength="16.50" lengthAdjust="spacingAndGlyphs">Days</text>
<text x="24.60" y="564.90" font-size="8.4" text-anchor="middle" fill="#2a2a2a" stroke="#2a2a2a" stroke-width="0.15" textLength="90.30" lengthAdjust="spacingAndGlyphs" transform="rotate(-90 24.60 564.90)">Relative tumor volumes (%)</text>
<line x1="143.60" y1="539.00" x2="143.60" y2="548.00" stroke="#111" stroke-width="1.0"/>
<text x="144.00" y="545.00" font-size="7.2" text-anchor="start" fill="#2a2a2a" stroke="#2a2a2a" stroke-width="0.15">ns</text>
<line x1="145.60" y1="547.70" x2="145.60" y2="579.40" stroke="#333" stroke-width="1.2"/>
<path d="M150.20,561.55L150.20,564.05M151.28,562.17L149.12,563.42M151.28,563.42L149.12,562.17" stroke="#222" stroke-width="0.85" fill="none"/>
<path d="M150.20,564.75L150.20,567.25M151.28,565.38L149.12,566.62M151.28,566.62L149.12,565.38" stroke="#222" stroke-width="0.85" fill="none"/>
<path d="M150.20,567.95L150.20,570.45M151.28,568.58L149.12,569.83M151.28,569.83L149.12,568.58" stroke="#222" stroke-width="0.85" fill="none"/>
<text x="173.50" y="530.10" font-size="8.6" text-anchor="start" fill="#2a2a2a" stroke="#2a2a2a" stroke-width="0.15" textLength="31.10" lengthAdjust="spacingAndGlyphs">GSK126 :</text>
<line x1="220.20" y1="527.20" x2="222.20" y2="527.20" stroke="#333" stroke-width="0.9"/>
<line x1="237.00" y1="527.20" x2="240.60" y2="527.20" stroke="#333" stroke-width="0.9"/>
<line x1="238.80" y1="525.40" x2="238.80" y2="529.00" stroke="#333" stroke-width="0.9"/>
<line x1="255.20" y1="527.20" x2="257.20" y2="527.20" stroke="#333" stroke-width="0.9"/>
<line x1="271.90" y1="527.20" x2="275.50" y2="527.20" stroke="#333" stroke-width="0.9"/>
<line x1="273.70" y1="525.40" x2="273.70" y2="529.00" stroke="#333" stroke-width="0.9"/>
<text x="217.70" y="518.90" font-size="8.6" text-anchor="start" fill="#2a2a2a" stroke="#2a2a2a" stroke-width="0.15" textLength="23.60" lengthAdjust="spacingAndGlyphs">Vector</text>
<line x1="217.70" y1="521.50" x2="243.30" y2="521.50" stroke="#222" stroke-width="1.1"/>
<text x="251.00" y="518.90" font-size="8.6" text-anchor="start" fill="#2a2a2a" stroke="#2a2a2a" stroke-width="0.15" textLength="27.80" lengthAdjust="spacingAndGlyphs">PI3KCA</text>
<line x1="251.00" y1="521.50" x2="278.80" y2="521.50" stroke="#222" stroke-width="1.1"/>
<defs><linearGradient id="pg2" x1="0" y1="0" x2="1" y2="1"><stop offset="0" stop-color="#efedd8"/><stop offset="1" stop-color="#e0dbba"/></linearGradient></defs>
<rect x="214.30" y="533.00" width="72.30" height="68.20" fill="url(#pg2)" stroke="none" stroke-width="1"/>
<g filter="url(#tb)">
<ellipse cx="222.00" cy="541.51" rx="4.52" ry="4.90" fill="#f0c888" opacity="0.75"/>
<ellipse cx="222.00" cy="541.51" rx="3.42" ry="3.80" fill="#d49c4a"/>
<ellipse cx="221.93" cy="541.61" rx="1.88" ry="1.90" fill="#a87434" opacity="0.45"/>
<ellipse cx="222.77" cy="555.21" rx="4.33" ry="4.68" fill="#f0c888" opacity="0.75"/>
<ellipse cx="222.77" cy="555.21" rx="3.23" ry="3.58" fill="#d49c4a"/>
<ellipse cx="223.45" cy="555.16" rx="1.77" ry="1.79" fill="#a87434" opacity="0.45"/>
<ellipse cx="222.71" cy="567.65" rx="4.31" ry="4.67" fill="#f0c888" opacity="0.75"/>
<ellipse cx="222.71" cy="567.65" rx="3.21" ry="3.57" fill="#d49c4a"/>
<ellipse cx="222.73" cy="567.79" rx="1.77" ry="1.79" fill="#a87434" opacity="0.45"/>
<ellipse cx="221.84" cy="581.13" rx="4.61" ry="5.00" fill="#f0c888" opacity="0.75"/>
<ellipse cx="221.84" cy="581.13" rx="3.51" ry="3.90" fill="#d49c4a"/>
<ellipse cx="221.34" cy="581.15" rx="1.93" ry="1.95" fill="#a87434" opacity="0.45"/>
<ellipse cx="223.35" cy="593.67" rx="4.60" ry="4.99" fill="#f0c888" opacity="0.75"/>
<ellipse cx="223.35" cy="593.67" rx="3.50" ry="3.89" fill="#d49c4a"/>
<ellipse cx="223.56" cy="594.14" rx="1.93" ry="1.95" fill="#a87434" opacity="0.45"/>
<ellipse cx="240.25" cy="541.93" rx="3.42" ry="3.70" fill="#f0c888" opacity="0.75"/>
<ellipse cx="240.25" cy="541.93" rx="2.32" ry="2.60" fill="#d49c4a"/>
<ellipse cx="239.61" cy="541.61" rx="1.28" ry="1.30" fill="#a87434" opacity="0.45"/>
<ellipse cx="239.79" cy="556.07" rx="3.62" ry="3.92" fill="#f0c888" opacity="0.75"/>
<ellipse cx="239.79" cy="556.07" rx="2.52" ry="2.82" fill="#d49c4a"/>
<ellipse cx="239.14" cy="556.56" rx="1.38" ry="1.41" fill="#a87434" opacity="0.45"/>
<ellipse cx="240.72" cy="568.01" rx="3.33" ry="3.59" fill="#f0c888" opacity="0.75"/>
<ellipse cx="240.72" cy="568.01" rx="2.23" ry="2.49" fill="#d49c4a"/>
<ellipse cx="241.03" cy="567.27" rx="1.22" ry="1.25" fill="#a87434" opacity="0.45"/>
<ellipse cx="239.24" cy="581.43" rx="3.38" ry="3.65" fill="#f0c888" opacity="0.75"/>
<ellipse cx="239.24" cy="581.43" rx="2.28" ry="2.55" fill="#d49c4a"/>
<ellipse cx="240.01" cy="582.18" rx="1.25" ry="1.28" fill="#a87434" opacity="0.45"/>
<ellipse cx="239.36" cy="594.31" rx="3.75" ry="4.07" fill="#f0c888" opacity="0.75"/>
<ellipse cx="239.36" cy="594.31" rx="2.65" ry="2.97" fill="#d49c4a"/>
<ellipse cx="239.61" cy="594.50" rx="1.46" ry="1.48" fill="#a87434" opacity="0.45"/>
<ellipse cx="257.14" cy="541.37" rx="4.88" ry="4.88" fill="#f0c888" opacity="0.75"/>
<ellipse cx="257.14" cy="541.37" rx="3.78" ry="3.78" fill="#d49c4a"/>
<ellipse cx="256.60" cy="540.59" rx="2.08" ry="1.89" fill="#a87434" opacity="0.45"/>
<ellipse cx="256.52" cy="554.99" rx="4.41" ry="4.41" fill="#f0c888" opacity="0.75"/>
<ellipse cx="256.52" cy="554.99" rx="3.31" ry="3.31" fill="#d49c4a"/>
<ellipse cx="256.56" cy="554.28" rx="1.82" ry="1.65" fill="#a87434" opacity="0.45"/>
<ellipse cx="257.26" cy="568.04" rx="4.91" ry="4.91" fill="#f0c888" opacity="0.75"/>
<ellipse cx="257.26" cy="568.04" rx="3.81" ry="3.81" fill="#d49c4a"/>
<ellipse cx="256.76" cy="567.63" rx="2.10" ry="1.90" fill="#a87434" opacity="0.45"/>
<ellipse cx="257.31" cy="581.42" rx="4.83" ry="4.83" fill="#f0c888" opacity="0.75"/>
<ellipse cx="257.31" cy="581.42" rx="3.73" ry="3.73" fill="#d49c4a"/>
<ellipse cx="256.55" cy="581.36" rx="2.05" ry="1.87" fill="#a87434" opacity="0.45"/>
<ellipse cx="257.80" cy="593.84" rx="5.00" ry="5.00" fill="#f0c888" opacity="0.75"/>
<ellipse cx="257.80" cy="593.84" rx="3.90" ry="3.90" fill="#d49c4a"/>
<ellipse cx="257.70" cy="594.39" rx="2.15" ry="1.95" fill="#a87434" opacity="0.45"/>
<ellipse cx="277.25" cy="541.83" rx="4.82" ry="5.02" fill="#f0c888" opacity="0.75"/>
<ellipse cx="277.25" cy="541.83" rx="3.72" ry="3.92" fill="#d49c4a"/>
<ellipse cx="277.28" cy="542.05" rx="2.05" ry="1.96" fill="#a87434" opacity="0.45"/>
<ellipse cx="276.78" cy="556.07" rx="4.95" ry="5.16" fill="#f0c888" opacity="0.75"/>
<ellipse cx="276.78" cy="556.07" rx="3.85" ry="4.06" fill="#d49c4a"/>
<ellipse cx="276.78" cy="556.33" rx="2.12" ry="2.03" fill="#a87434" opacity="0.45"/>
<ellipse cx="277.04" cy="568.66" rx="4.45" ry="4.63" fill="#f0c888" opacity="0.75"/>
<ellipse cx="277.04" cy="568.66" rx="3.35" ry="3.53" fill="#d49c4a"/>
<ellipse cx="276.97" cy="568.31" rx="1.84" ry="1.77" fill="#a87434" opacity="0.45"/>
<ellipse cx="277.18" cy="581.05" rx="4.48" ry="4.66" fill="#f0c888" opacity="0.75"/>
<ellipse cx="277.18" cy="581.05" rx="3.38" ry="3.56" fill="#d49c4a"/>
<ellipse cx="277.97" cy="581.85" rx="1.86" ry="1.78" fill="#a87434" opacity="0.45"/>
<ellipse cx="277.73" cy="594.30" rx="4.90" ry="5.11" fill="#f0c888" opacity="0.75"/>
<ellipse cx="277.73" cy="594.30" rx="3.80" ry="4.01" fill="#d49c4a"/>
<ellipse cx="278.27" cy="594.63" rx="2.09" ry="2.00" fill="#a87434" opacity="0.45"/>
</g>
<rect x="214.90" y="533.60" width="71.10" height="67.00" fill="none" stroke="#1e1e1e" stroke-width="1.4"/>
<rect x="0.6" y="0.6" width="518.8" height="640.8" fill="none" stroke="#000" stroke-width="1.3"/>
</svg>
</body></html>
